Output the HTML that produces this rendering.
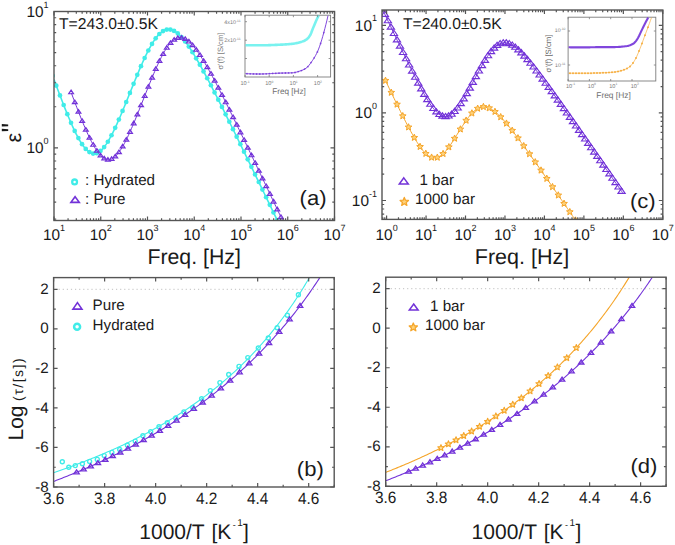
<!DOCTYPE html><html><head><meta charset="utf-8"><style>html,body{margin:0;padding:0;background:#fff}svg{display:block}</style></head><body><svg width="675" height="545" viewBox="0 0 675 545" font-family='"Liberation Sans", sans-serif' fill="#1a1a1a" text-rendering="geometricPrecision">
<rect width="675" height="545" fill="#fff"/>
<defs>
<clipPath id="ca"><rect x="54" y="11.5" width="280.5" height="209"/></clipPath>
<clipPath id="cc"><rect x="382" y="10" width="280.8" height="209.4"/></clipPath>
<clipPath id="cb"><rect x="53.6" y="277.6" width="280.6" height="209.4"/></clipPath>
<clipPath id="cd"><rect x="385.7" y="277.2" width="280.4" height="209.1"/></clipPath>
</defs>
<g clip-path="url(#ca)">
<path d="M54 79.46L54.86 81.79L55.72 84.12L56.58 86.43L57.44 88.74L58.3 91.03L59.16 93.31L60.02 95.58L60.88 97.83L61.74 100.07L62.6 102.3L63.46 104.5L64.32 106.69L65.18 108.85L66.04 110.99L66.9 113.11L67.76 115.21L68.62 117.27L69.48 119.31L70.34 121.32L71.2 123.29L72.06 125.22L72.92 127.12L73.78 128.98L74.64 130.79L75.5 132.55L76.36 134.27L77.22 135.93L78.08 137.54L78.94 139.09L79.8 140.58L80.66 142L81.52 143.36L82.38 144.64L83.24 145.85L84.1 146.99L84.96 148.04L85.82 149.01L86.68 149.89L87.54 150.68L88.4 151.39L89.26 151.99L90.12 152.51L90.98 152.92L91.84 153.24L92.7 153.46L93.56 153.58L94.42 153.6L95.28 153.52L96.14 153.34L97 153.06L97.86 152.68L98.72 152.2L99.58 151.63L100.44 150.96L101.3 150.2L102.16 149.36L103.02 148.42L103.88 147.41L104.74 146.31L105.6 145.14L106.46 143.89L107.32 142.57L108.18 141.18L109.04 139.73L109.9 138.22L110.76 136.65L111.62 135.03L112.48 133.35L113.34 131.63L114.2 129.87L115.06 128.06L115.92 126.21L116.78 124.33L117.64 122.41L118.5 120.46L119.36 118.49L120.22 116.49L121.08 114.47L121.94 112.42L122.8 110.36L123.66 108.29L124.52 106.2L125.38 104.09L126.24 101.98L127.1 99.86L127.96 97.74L128.82 95.61L129.68 93.47L130.54 91.34L131.4 89.21L132.26 87.08L133.12 84.96L133.98 82.85L134.84 80.74L135.7 78.65L136.56 76.57L137.42 74.5L138.28 72.45L139.14 70.42L139.99 68.41L140.85 66.42L141.71 64.46L142.57 62.53L143.43 60.63L144.29 58.76L145.15 56.92L146.01 55.13L146.87 53.37L147.73 51.66L148.59 49.99L149.45 48.37L150.31 46.8L151.17 45.28L152.03 43.82L152.89 42.42L153.75 41.08L154.61 39.8L155.47 38.59L156.33 37.44L157.19 36.37L158.05 35.37L158.91 34.44L159.77 33.59L160.63 32.81L161.49 32.12L162.35 31.5L163.21 30.96L164.07 30.5L164.93 30.12L165.79 29.83L166.65 29.61L167.51 29.47L168.37 29.41L169.23 29.43L170.09 29.52L170.95 29.69L171.81 29.93L172.67 30.24L173.53 30.62L174.39 31.07L175.25 31.59L176.11 32.16L176.97 32.8L177.83 33.5L178.69 34.25L179.55 35.06L180.41 35.92L181.27 36.83L182.13 37.78L182.99 38.78L183.85 39.82L184.71 40.9L185.57 42.02L186.43 43.18L187.29 44.37L188.15 45.6L189.01 46.85L189.87 48.14L190.73 49.45L191.59 50.79L192.45 52.15L193.31 53.54L194.17 54.95L195.03 56.37L195.89 57.82L196.75 59.29L197.61 60.77L198.47 62.27L199.33 63.79L200.19 65.31L201.05 66.86L201.91 68.41L202.77 69.98L203.63 71.56L204.49 73.15L205.35 74.75L206.21 76.36L207.07 77.98L207.93 79.6L208.79 81.24L209.65 82.88L210.51 84.53L211.37 86.19L212.23 87.85L213.09 89.52L213.95 91.19L214.81 92.87L215.67 94.56L216.53 96.25L217.39 97.94L218.25 99.64L219.11 101.34L219.97 103.05L220.83 104.76L221.69 106.47L222.55 108.19L223.41 109.91L224.27 111.63L225.13 113.36L225.99 115.08L226.85 116.81L227.71 118.55L228.57 120.28L229.43 122.02L230.29 123.76L231.15 125.5L232.01 127.24L232.87 128.99L233.73 130.73L234.59 132.48L235.45 134.23L236.31 135.98L237.17 137.74L238.03 139.49L238.89 141.24L239.75 143L240.61 144.76L241.47 146.52L242.33 148.28L243.19 150.04L244.05 151.8L244.91 153.56L245.77 155.32L246.63 157.09L247.49 158.85L248.35 160.62L249.21 162.38L250.07 164.15L250.93 165.92L251.79 167.69L252.65 169.46L253.51 171.23L254.37 172.99L255.23 174.77L256.09 176.54L256.95 178.31L257.81 180.08L258.67 181.85L259.53 183.62L260.39 185.4L261.25 187.17L262.11 188.94L262.97 190.72L263.83 192.49L264.69 194.27L265.55 196.04L266.41 197.82L267.27 199.59L268.13 201.37L268.99 203.15L269.85 204.92L270.71 206.7L271.57 208.48L272.43 210.25L273.29 212.03L274.15 213.81L275.01 215.59L275.87 217.36L276.73 219.14L277.59 220.92L278.45 222.7L279.31 224.48L280.17 226.25L281.03 228.03L281.89 229.81L282.75 231.59L283.61 233.37L284.47 235.15L285.33 236.93L286.19 238.71L287.05 240.49L287.91 242.27L288.77 244.05L289.63 245.83L290.49 247.61L291.35 249.39L292.21 251.17L293.07 252.95L293.93 254.73L294.79 256.51L295.65 258.29L296.51 260.07L297.37 261.85L298.23 263.63L299.09 265.41L299.95 267.19L300.81 268.97L301.67 270.75L302.53 272.53L303.39 274.32L304.25 276.1L305.11 277.88L305.97 279.66L306.83 281.44L307.69 283.22L308.55 285L309.41 286.78L310.27 288.56L311.12 290.35" stroke="#40ece8" stroke-width="1.6" fill="none"/>
<circle cx="52.61" cy="75.67" r="2.35" fill="#40ece8"/><circle cx="56.29" cy="85.65" r="2.35" fill="#40ece8"/><circle cx="59.97" cy="95.45" r="2.35" fill="#40ece8"/><circle cx="63.65" cy="104.99" r="2.35" fill="#40ece8"/><circle cx="67.33" cy="114.18" r="2.35" fill="#40ece8"/><circle cx="71.02" cy="122.87" r="2.35" fill="#40ece8"/><circle cx="74.7" cy="130.91" r="2.35" fill="#40ece8"/><circle cx="78.38" cy="138.09" r="2.35" fill="#40ece8"/><circle cx="82.06" cy="144.18" r="2.35" fill="#40ece8"/><circle cx="85.74" cy="148.92" r="2.35" fill="#40ece8"/><circle cx="89.42" cy="152.1" r="2.35" fill="#40ece8"/><circle cx="93.1" cy="153.53" r="2.35" fill="#40ece8"/><circle cx="96.78" cy="153.13" r="2.35" fill="#40ece8"/><circle cx="100.46" cy="150.94" r="2.35" fill="#40ece8"/><circle cx="104.15" cy="147.08" r="2.35" fill="#40ece8"/><circle cx="107.83" cy="141.76" r="2.35" fill="#40ece8"/><circle cx="111.51" cy="135.24" r="2.35" fill="#40ece8"/><circle cx="115.19" cy="127.78" r="2.35" fill="#40ece8"/><circle cx="118.87" cy="119.61" r="2.35" fill="#40ece8"/><circle cx="122.55" cy="110.95" r="2.35" fill="#40ece8"/><circle cx="126.23" cy="101.99" r="2.35" fill="#40ece8"/><circle cx="129.91" cy="92.88" r="2.35" fill="#40ece8"/><circle cx="133.59" cy="83.78" r="2.35" fill="#40ece8"/><circle cx="137.28" cy="74.83" r="2.35" fill="#40ece8"/><circle cx="140.96" cy="66.19" r="2.35" fill="#40ece8"/><circle cx="144.64" cy="58.02" r="2.35" fill="#40ece8"/><circle cx="148.32" cy="50.52" r="2.35" fill="#40ece8"/><circle cx="152" cy="43.88" r="2.35" fill="#40ece8"/><circle cx="155.68" cy="38.31" r="2.35" fill="#40ece8"/><circle cx="159.36" cy="33.99" r="2.35" fill="#40ece8"/><circle cx="163.04" cy="31.06" r="2.35" fill="#40ece8"/><circle cx="166.72" cy="29.59" r="2.35" fill="#40ece8"/><circle cx="170.4" cy="29.57" r="2.35" fill="#40ece8"/><circle cx="174.09" cy="30.9" r="2.35" fill="#40ece8"/><circle cx="177.77" cy="33.44" r="2.35" fill="#40ece8"/><circle cx="181.45" cy="37.02" r="2.35" fill="#40ece8"/><circle cx="185.13" cy="41.44" r="2.35" fill="#40ece8"/><circle cx="188.81" cy="46.56" r="2.35" fill="#40ece8"/><circle cx="192.49" cy="52.21" r="2.35" fill="#40ece8"/><circle cx="196.17" cy="58.3" r="2.35" fill="#40ece8"/><circle cx="199.85" cy="64.71" r="2.35" fill="#40ece8"/><circle cx="203.53" cy="71.38" r="2.35" fill="#40ece8"/><circle cx="207.22" cy="78.25" r="2.35" fill="#40ece8"/><circle cx="210.9" cy="85.27" r="2.35" fill="#40ece8"/><circle cx="214.58" cy="92.42" r="2.35" fill="#40ece8"/><circle cx="218.26" cy="99.66" r="2.35" fill="#40ece8"/><circle cx="221.94" cy="106.97" r="2.35" fill="#40ece8"/><circle cx="225.62" cy="114.34" r="2.35" fill="#40ece8"/><circle cx="229.3" cy="121.76" r="2.35" fill="#40ece8"/><circle cx="232.98" cy="129.22" r="2.35" fill="#40ece8"/><circle cx="236.66" cy="136.71" r="2.35" fill="#40ece8"/><circle cx="240.35" cy="144.22" r="2.35" fill="#40ece8"/><circle cx="244.03" cy="151.75" r="2.35" fill="#40ece8"/><circle cx="247.71" cy="159.3" r="2.35" fill="#40ece8"/><circle cx="251.39" cy="166.87" r="2.35" fill="#40ece8"/><circle cx="255.07" cy="174.44" r="2.35" fill="#40ece8"/><circle cx="258.75" cy="182.02" r="2.35" fill="#40ece8"/><circle cx="262.43" cy="189.61" r="2.35" fill="#40ece8"/><circle cx="266.11" cy="197.21" r="2.35" fill="#40ece8"/><circle cx="269.79" cy="204.81" r="2.35" fill="#40ece8"/><circle cx="273.48" cy="212.42" r="2.35" fill="#40ece8"/><circle cx="277.16" cy="220.03" r="2.35" fill="#40ece8"/><circle cx="280.84" cy="227.64" r="2.35" fill="#40ece8"/><circle cx="284.52" cy="235.26" r="2.35" fill="#40ece8"/><circle cx="288.2" cy="242.88" r="2.35" fill="#40ece8"/><circle cx="291.88" cy="250.5" r="2.35" fill="#40ece8"/><circle cx="295.56" cy="258.12" r="2.35" fill="#40ece8"/><circle cx="299.24" cy="265.74" r="2.35" fill="#40ece8"/><circle cx="302.92" cy="273.36" r="2.35" fill="#40ece8"/><circle cx="306.61" cy="280.98" r="2.35" fill="#40ece8"/><circle cx="310.29" cy="288.61" r="2.35" fill="#40ece8"/>
<path d="M71.3 92.82L72.1 94.98L72.9 97.13L73.7 99.27L74.51 101.4L75.31 103.52L76.11 105.62L76.91 107.71L77.71 109.78L78.52 111.84L79.32 113.88L80.12 115.9L80.92 117.9L81.72 119.88L82.53 121.84L83.33 123.77L84.13 125.68L84.93 127.56L85.74 129.41L86.54 131.23L87.34 133.01L88.14 134.76L88.94 136.47L89.75 138.14L90.55 139.77L91.35 141.35L92.15 142.88L92.95 144.37L93.76 145.8L94.56 147.18L95.36 148.49L96.16 149.75L96.96 150.94L97.77 152.07L98.57 153.13L99.37 154.11L100.17 155.03L100.98 155.86L101.78 156.62L102.58 157.3L103.38 157.89L104.18 158.4L104.99 158.83L105.79 159.16L106.59 159.41L107.39 159.57L108.19 159.64L109 159.62L109.8 159.51L110.6 159.32L111.4 159.03L112.2 158.65L113.01 158.19L113.81 157.64L114.61 157.01L115.41 156.3L116.22 155.5L117.02 154.63L117.82 153.68L118.62 152.66L119.42 151.57L120.23 150.41L121.03 149.19L121.83 147.9L122.63 146.55L123.43 145.15L124.24 143.69L125.04 142.18L125.84 140.62L126.64 139.02L127.44 137.37L128.25 135.68L129.05 133.96L129.85 132.2L130.65 130.4L131.45 128.58L132.26 126.73L133.06 124.85L133.86 122.95L134.66 121.03L135.47 119.09L136.27 117.13L137.07 115.16L137.87 113.17L138.67 111.17L139.48 109.16L140.28 107.14L141.08 105.12L141.88 103.09L142.68 101.06L143.49 99.03L144.29 97L145.09 94.97L145.89 92.94L146.69 90.92L147.5 88.91L148.3 86.9L149.1 84.91L149.9 82.93L150.71 80.97L151.51 79.02L152.31 77.08L153.11 75.17L153.91 73.28L154.72 71.42L155.52 69.58L156.32 67.77L157.12 65.99L157.92 64.25L158.73 62.54L159.53 60.87L160.33 59.23L161.13 57.64L161.93 56.1L162.74 54.6L163.54 53.15L164.34 51.76L165.14 50.42L165.95 49.14L166.75 47.91L167.55 46.75L168.35 45.65L169.15 44.61L169.96 43.65L170.76 42.75L171.56 41.92L172.36 41.16L173.16 40.48L173.97 39.87L174.77 39.33L175.57 38.87L176.37 38.48L177.17 38.17L177.98 37.93L178.78 37.76L179.58 37.67L180.38 37.65L181.19 37.71L181.99 37.83L182.79 38.02L183.59 38.28L184.39 38.6L185.2 38.99L186 39.44L186.8 39.95L187.6 40.52L188.4 41.15L189.21 41.83L190.01 42.56L190.81 43.33L191.61 44.16L192.41 45.03L193.22 45.95L194.02 46.91L194.82 47.9L195.62 48.94L196.42 50.01L197.23 51.11L198.03 52.24L198.83 53.41L199.63 54.6L200.44 55.83L201.24 57.07L202.04 58.34L202.84 59.64L203.64 60.95L204.45 62.29L205.25 63.65L206.05 65.02L206.85 66.41L207.65 67.82L208.46 69.24L209.26 70.68L210.06 72.13L210.86 73.59L211.66 75.07L212.47 76.56L213.27 78.05L214.07 79.56L214.87 81.08L215.68 82.61L216.48 84.14L217.28 85.68L218.08 87.24L218.88 88.79L219.69 90.36L220.49 91.93L221.29 93.51L222.09 95.09L222.89 96.68L223.7 98.27L224.5 99.87L225.3 101.47L226.1 103.08L226.9 104.69L227.71 106.31L228.51 107.93L229.31 109.55L230.11 111.18L230.92 112.81L231.72 114.44L232.52 116.07L233.32 117.71L234.12 119.35L234.93 120.99L235.73 122.64L236.53 124.29L237.33 125.93L238.13 127.59L238.94 129.24L239.74 130.89L240.54 132.55L241.34 134.21L242.14 135.87L242.95 137.53L243.75 139.19L244.55 140.86L245.35 142.52L246.16 144.19L246.96 145.85L247.76 147.52L248.56 149.19L249.36 150.86L250.17 152.54L250.97 154.21L251.77 155.88L252.57 157.56L253.37 159.23L254.18 160.91L254.98 162.58L255.78 164.26L256.58 165.94L257.38 167.62L258.19 169.3L258.99 170.98L259.79 172.66L260.59 174.34L261.39 176.02L262.2 177.7L263 179.38L263.8 181.07L264.6 182.75L265.41 184.43L266.21 186.12L267.01 187.8L267.81 189.49L268.61 191.17L269.42 192.86L270.22 194.54L271.02 196.23L271.82 197.91L272.62 199.6L273.43 201.29L274.23 202.98L275.03 204.66L275.83 206.35L276.63 208.04L277.44 209.73L278.24 211.41L279.04 213.1L279.84 214.79L280.65 216.48L281.45 218.17L282.25 219.86L283.05 221.55L283.85 223.24L284.66 224.93L285.46 226.62L286.26 228.31L287.06 230L287.86 231.69L288.67 233.38L289.47 235.07L290.27 236.76L291.07 238.45L291.87 240.14L292.68 241.83L293.48 243.52L294.28 245.21L295.08 246.91L295.89 248.6L296.69 250.29L297.49 251.98L298.29 253.67L299.09 255.36L299.9 257.05L300.7 258.75L301.5 260.44L302.3 262.13L303.1 263.82L303.91 265.51L304.71 267.2L305.51 268.9L306.31 270.59L307.11 272.28L307.92 273.97L308.72 275.67L309.52 277.36L310.32 279.05L311.12 280.74" stroke="#7232d8" stroke-width="1" fill="none"/>
<path d="M71.11 90.16L73.51 93.76H68.71Z" fill="none" stroke="#7232d8" stroke-width="1.2" stroke-linejoin="miter"/><path d="M74.79 100L77.19 103.6H72.39Z" fill="none" stroke="#7232d8" stroke-width="1.2" stroke-linejoin="miter"/><path d="M78.47 109.57L80.87 113.17H76.07Z" fill="none" stroke="#7232d8" stroke-width="1.2" stroke-linejoin="miter"/><path d="M82.15 118.77L84.55 122.37H79.75Z" fill="none" stroke="#7232d8" stroke-width="1.2" stroke-linejoin="miter"/><path d="M85.83 127.48L88.23 131.08H83.43Z" fill="none" stroke="#7232d8" stroke-width="1.2" stroke-linejoin="miter"/><path d="M89.52 135.51L91.92 139.11H87.12Z" fill="none" stroke="#7232d8" stroke-width="1.2" stroke-linejoin="miter"/><path d="M93.2 142.65L95.6 146.25H90.8Z" fill="none" stroke="#7232d8" stroke-width="1.2" stroke-linejoin="miter"/><path d="M96.88 148.66L99.28 152.26H94.48Z" fill="none" stroke="#7232d8" stroke-width="1.2" stroke-linejoin="miter"/><path d="M100.56 153.28L102.96 156.88H98.16Z" fill="none" stroke="#7232d8" stroke-width="1.2" stroke-linejoin="miter"/><path d="M104.24 156.28L106.64 159.88H101.84Z" fill="none" stroke="#7232d8" stroke-width="1.2" stroke-linejoin="miter"/><path d="M107.92 157.47L110.32 161.07H105.52Z" fill="none" stroke="#7232d8" stroke-width="1.2" stroke-linejoin="miter"/><path d="M111.6 156.78L114 160.38H109.2Z" fill="none" stroke="#7232d8" stroke-width="1.2" stroke-linejoin="miter"/><path d="M115.28 154.26L117.68 157.86H112.88Z" fill="none" stroke="#7232d8" stroke-width="1.2" stroke-linejoin="miter"/><path d="M118.96 150.04L121.36 153.64H116.56Z" fill="none" stroke="#7232d8" stroke-width="1.2" stroke-linejoin="miter"/><path d="M122.65 144.37L125.05 147.97H120.25Z" fill="none" stroke="#7232d8" stroke-width="1.2" stroke-linejoin="miter"/><path d="M126.33 137.49L128.73 141.09H123.93Z" fill="none" stroke="#7232d8" stroke-width="1.2" stroke-linejoin="miter"/><path d="M130.01 129.69L132.41 133.29H127.61Z" fill="none" stroke="#7232d8" stroke-width="1.2" stroke-linejoin="miter"/><path d="M133.69 121.2L136.09 124.8H131.29Z" fill="none" stroke="#7232d8" stroke-width="1.2" stroke-linejoin="miter"/><path d="M137.37 112.25L139.77 115.85H134.97Z" fill="none" stroke="#7232d8" stroke-width="1.2" stroke-linejoin="miter"/><path d="M141.05 103.03L143.45 106.63H138.65Z" fill="none" stroke="#7232d8" stroke-width="1.2" stroke-linejoin="miter"/><path d="M144.73 93.71L147.13 97.31H142.33Z" fill="none" stroke="#7232d8" stroke-width="1.2" stroke-linejoin="miter"/><path d="M148.41 84.46L150.81 88.06H146.01Z" fill="none" stroke="#7232d8" stroke-width="1.2" stroke-linejoin="miter"/><path d="M152.09 75.44L154.49 79.04H149.69Z" fill="none" stroke="#7232d8" stroke-width="1.2" stroke-linejoin="miter"/><path d="M155.78 66.84L158.18 70.44H153.38Z" fill="none" stroke="#7232d8" stroke-width="1.2" stroke-linejoin="miter"/><path d="M159.46 58.85L161.86 62.45H157.06Z" fill="none" stroke="#7232d8" stroke-width="1.2" stroke-linejoin="miter"/><path d="M163.14 51.71L165.54 55.31H160.74Z" fill="none" stroke="#7232d8" stroke-width="1.2" stroke-linejoin="miter"/><path d="M166.82 45.64L169.22 49.24H164.42Z" fill="none" stroke="#7232d8" stroke-width="1.2" stroke-linejoin="miter"/><path d="M170.5 40.87L172.9 44.47H168.1Z" fill="none" stroke="#7232d8" stroke-width="1.2" stroke-linejoin="miter"/><path d="M174.18 37.55L176.58 41.15H171.78Z" fill="none" stroke="#7232d8" stroke-width="1.2" stroke-linejoin="miter"/><path d="M177.86 35.8L180.26 39.4H175.46Z" fill="none" stroke="#7232d8" stroke-width="1.2" stroke-linejoin="miter"/><path d="M181.54 35.59L183.94 39.19H179.14Z" fill="none" stroke="#7232d8" stroke-width="1.2" stroke-linejoin="miter"/><path d="M185.22 36.85L187.62 40.45H182.82Z" fill="none" stroke="#7232d8" stroke-width="1.2" stroke-linejoin="miter"/><path d="M188.91 39.41L191.31 43.01H186.51Z" fill="none" stroke="#7232d8" stroke-width="1.2" stroke-linejoin="miter"/><path d="M192.59 43.07L194.99 46.67H190.19Z" fill="none" stroke="#7232d8" stroke-width="1.2" stroke-linejoin="miter"/><path d="M196.27 47.63L198.67 51.23H193.87Z" fill="none" stroke="#7232d8" stroke-width="1.2" stroke-linejoin="miter"/><path d="M199.95 52.92L202.35 56.52H197.55Z" fill="none" stroke="#7232d8" stroke-width="1.2" stroke-linejoin="miter"/><path d="M203.63 58.77L206.03 62.37H201.23Z" fill="none" stroke="#7232d8" stroke-width="1.2" stroke-linejoin="miter"/><path d="M207.31 65.05L209.71 68.65H204.91Z" fill="none" stroke="#7232d8" stroke-width="1.2" stroke-linejoin="miter"/><path d="M210.99 71.67L213.39 75.27H208.59Z" fill="none" stroke="#7232d8" stroke-width="1.2" stroke-linejoin="miter"/><path d="M214.67 78.54L217.07 82.14H212.27Z" fill="none" stroke="#7232d8" stroke-width="1.2" stroke-linejoin="miter"/><path d="M218.35 85.61L220.75 89.21H215.95Z" fill="none" stroke="#7232d8" stroke-width="1.2" stroke-linejoin="miter"/><path d="M222.04 92.82L224.44 96.42H219.64Z" fill="none" stroke="#7232d8" stroke-width="1.2" stroke-linejoin="miter"/><path d="M225.72 100.15L228.12 103.75H223.32Z" fill="none" stroke="#7232d8" stroke-width="1.2" stroke-linejoin="miter"/><path d="M229.4 107.57L231.8 111.17H227Z" fill="none" stroke="#7232d8" stroke-width="1.2" stroke-linejoin="miter"/><path d="M233.08 115.06L235.48 118.66H230.68Z" fill="none" stroke="#7232d8" stroke-width="1.2" stroke-linejoin="miter"/><path d="M236.76 122.6L239.16 126.2H234.36Z" fill="none" stroke="#7232d8" stroke-width="1.2" stroke-linejoin="miter"/><path d="M240.44 130.19L242.84 133.79H238.04Z" fill="none" stroke="#7232d8" stroke-width="1.2" stroke-linejoin="miter"/><path d="M244.12 137.81L246.52 141.41H241.72Z" fill="none" stroke="#7232d8" stroke-width="1.2" stroke-linejoin="miter"/><path d="M247.8 145.46L250.2 149.06H245.4Z" fill="none" stroke="#7232d8" stroke-width="1.2" stroke-linejoin="miter"/><path d="M251.48 153.13L253.88 156.73H249.08Z" fill="none" stroke="#7232d8" stroke-width="1.2" stroke-linejoin="miter"/><path d="M255.17 160.82L257.57 164.42H252.77Z" fill="none" stroke="#7232d8" stroke-width="1.2" stroke-linejoin="miter"/><path d="M258.85 168.52L261.25 172.12H256.45Z" fill="none" stroke="#7232d8" stroke-width="1.2" stroke-linejoin="miter"/><path d="M262.53 176.23L264.93 179.83H260.13Z" fill="none" stroke="#7232d8" stroke-width="1.2" stroke-linejoin="miter"/><path d="M266.21 183.96L268.61 187.56H263.81Z" fill="none" stroke="#7232d8" stroke-width="1.2" stroke-linejoin="miter"/><path d="M269.89 191.69L272.29 195.29H267.49Z" fill="none" stroke="#7232d8" stroke-width="1.2" stroke-linejoin="miter"/><path d="M273.57 199.43L275.97 203.03H271.17Z" fill="none" stroke="#7232d8" stroke-width="1.2" stroke-linejoin="miter"/><path d="M277.25 207.18L279.65 210.78H274.85Z" fill="none" stroke="#7232d8" stroke-width="1.2" stroke-linejoin="miter"/><path d="M280.93 214.93L283.33 218.53H278.53Z" fill="none" stroke="#7232d8" stroke-width="1.2" stroke-linejoin="miter"/><path d="M284.61 222.68L287.01 226.28H282.21Z" fill="none" stroke="#7232d8" stroke-width="1.2" stroke-linejoin="miter"/><path d="M288.3 230.44L290.7 234.04H285.9Z" fill="none" stroke="#7232d8" stroke-width="1.2" stroke-linejoin="miter"/><path d="M291.98 238.2L294.38 241.8H289.58Z" fill="none" stroke="#7232d8" stroke-width="1.2" stroke-linejoin="miter"/><path d="M295.66 245.96L298.06 249.56H293.26Z" fill="none" stroke="#7232d8" stroke-width="1.2" stroke-linejoin="miter"/><path d="M299.34 253.72L301.74 257.32H296.94Z" fill="none" stroke="#7232d8" stroke-width="1.2" stroke-linejoin="miter"/><path d="M303.02 261.48L305.42 265.08H300.62Z" fill="none" stroke="#7232d8" stroke-width="1.2" stroke-linejoin="miter"/><path d="M306.7 269.25L309.1 272.85H304.3Z" fill="none" stroke="#7232d8" stroke-width="1.2" stroke-linejoin="miter"/><path d="M310.38 277.02L312.78 280.62H307.98Z" fill="none" stroke="#7232d8" stroke-width="1.2" stroke-linejoin="miter"/>
</g>
<g clip-path="url(#cc)">
<path d="M384.63 78.78L385.43 80.44L386.22 82.1L387.02 83.77L387.82 85.43L388.62 87.09L389.42 88.74L390.22 90.4L391.01 92.05L391.81 93.7L392.61 95.35L393.41 97L394.21 98.64L395.01 100.28L395.8 101.92L396.6 103.55L397.4 105.18L398.2 106.8L399 108.42L399.8 110.04L400.59 111.65L401.39 113.25L402.19 114.85L402.99 116.44L403.79 118.02L404.59 119.59L405.38 121.15L406.18 122.7L406.98 124.24L407.78 125.77L408.58 127.28L409.38 128.78L410.18 130.27L410.97 131.74L411.77 133.18L412.57 134.61L413.37 136.02L414.17 137.41L414.97 138.77L415.76 140.1L416.56 141.4L417.36 142.67L418.16 143.91L418.96 145.12L419.76 146.28L420.55 147.41L421.35 148.49L422.15 149.53L422.95 150.52L423.75 151.46L424.55 152.34L425.34 153.17L426.14 153.94L426.94 154.65L427.74 155.3L428.54 155.88L429.34 156.39L430.13 156.83L430.93 157.2L431.73 157.5L432.53 157.73L433.33 157.88L434.13 157.95L434.92 157.95L435.72 157.87L436.52 157.72L437.32 157.5L438.12 157.2L438.92 156.82L439.72 156.38L440.51 155.87L441.31 155.29L442.11 154.65L442.91 153.95L443.71 153.18L444.51 152.37L445.3 151.5L446.1 150.57L446.9 149.61L447.7 148.6L448.5 147.54L449.3 146.46L450.09 145.33L450.89 144.18L451.69 143L452.49 141.79L453.29 140.57L454.09 139.33L454.88 138.07L455.68 136.8L456.48 135.52L457.28 134.23L458.08 132.95L458.88 131.66L459.67 130.38L460.47 129.1L461.27 127.83L462.07 126.57L462.87 125.33L463.67 124.11L464.46 122.91L465.26 121.73L466.06 120.58L466.86 119.46L467.66 118.37L468.46 117.31L469.26 116.29L470.05 115.32L470.85 114.39L471.65 113.5L472.45 112.66L473.25 111.87L474.05 111.14L474.84 110.45L475.64 109.83L476.44 109.26L477.24 108.74L478.04 108.29L478.84 107.9L479.63 107.56L480.43 107.29L481.23 107.08L482.03 106.92L482.83 106.83L483.63 106.79L484.42 106.82L485.22 106.89L486.02 107.02L486.82 107.21L487.62 107.44L488.42 107.73L489.21 108.06L490.01 108.44L490.81 108.86L491.61 109.33L492.41 109.83L493.21 110.38L494.01 110.96L494.8 111.57L495.6 112.22L496.4 112.9L497.2 113.6L498 114.34L498.8 115.09L499.59 115.88L500.39 116.68L501.19 117.51L501.99 118.36L502.79 119.23L503.59 120.11L504.38 121.01L505.18 121.93L505.98 122.86L506.78 123.81L507.58 124.77L508.38 125.74L509.17 126.72L509.97 127.71L510.77 128.71L511.57 129.73L512.37 130.75L513.17 131.77L513.96 132.81L514.76 133.85L515.56 134.9L516.36 135.96L517.16 137.02L517.96 138.09L518.75 139.16L519.55 140.24L520.35 141.32L521.15 142.41L521.95 143.5L522.75 144.6L523.55 145.7L524.34 146.8L525.14 147.9L525.94 149.01L526.74 150.12L527.54 151.24L528.34 152.35L529.13 153.47L529.93 154.59L530.73 155.72L531.53 156.84L532.33 157.97L533.13 159.1L533.92 160.23L534.72 161.36L535.52 162.49L536.32 163.63L537.12 164.77L537.92 165.9L538.71 167.04L539.51 168.18L540.31 169.33L541.11 170.47L541.91 171.61L542.71 172.76L543.5 173.9L544.3 175.05L545.1 176.19L545.9 177.34L546.7 178.49L547.5 179.64L548.29 180.79L549.09 181.94L549.89 183.09L550.69 184.24L551.49 185.4L552.29 186.55L553.09 187.7L553.88 188.86L554.68 190.01L555.48 191.16L556.28 192.32L557.08 193.47L557.88 194.63L558.67 195.79L559.47 196.94L560.27 198.1L561.07 199.26L561.87 200.41L562.67 201.57L563.46 202.73L564.26 203.89L565.06 205.04L565.86 206.2L566.66 207.36L567.46 208.52L568.25 209.68L569.05 210.84L569.85 212L570.65 213.16L571.45 214.32L572.25 215.48L573.04 216.64L573.84 217.8L574.64 218.96L575.44 220.12L576.24 221.28L577.04 222.44L577.84 223.6L578.63 224.76L579.43 225.92L580.23 227.08L581.03 228.24L581.83 229.4L582.63 230.57L583.42 231.73L584.22 232.89L585.02 234.05L585.82 235.21L586.62 236.37L587.42 237.53L588.21 238.7L589.01 239.86L589.81 241.02L590.61 242.18L591.41 243.34L592.21 244.5L593 245.67L593.8 246.83L594.6 247.99L595.4 249.15L596.2 250.31L597 251.48L597.79 252.64L598.59 253.8L599.39 254.96L600.19 256.12L600.99 257.29L601.79 258.45L602.58 259.61L603.38 260.77L604.18 261.94L604.98 263.1L605.78 264.26L606.58 265.42L607.38 266.59L608.17 267.75L608.97 268.91L609.77 270.07L610.57 271.24L611.37 272.4L612.17 273.56L612.96 274.72L613.76 275.88L614.56 277.05L615.36 278.21L616.16 279.37L616.96 280.53L617.75 281.7L618.55 282.86L619.35 284.02L620.15 285.18L620.95 286.35L621.75 287.51L622.54 288.67L623.34 289.83" stroke="#f5a52a" stroke-width="1" fill="none"/>
<polygon points="385.49,77.09 386.42,79.31 388.82,79.5 386.99,81.07 387.55,83.42 385.49,82.16 383.44,83.42 384,81.07 382.17,79.5 384.57,79.31" fill="#ffd27a" stroke="#f5a52a" stroke-width="1.0" stroke-linejoin="round"/><polygon points="391.26,89.05 392.18,91.28 394.58,91.47 392.75,93.04 393.31,95.38 391.26,94.13 389.2,95.38 389.76,93.04 387.93,91.47 390.33,91.28" fill="#ffd27a" stroke="#f5a52a" stroke-width="1.0" stroke-linejoin="round"/><polygon points="397.02,100.89 397.94,103.12 400.34,103.31 398.51,104.88 399.07,107.23 397.02,105.97 394.96,107.23 395.52,104.88 393.69,103.31 396.09,103.12" fill="#ffd27a" stroke="#f5a52a" stroke-width="1.0" stroke-linejoin="round"/><polygon points="402.78,112.51 403.7,114.74 406.1,114.93 404.27,116.5 404.83,118.84 402.78,117.59 400.72,118.84 401.28,116.5 399.45,114.93 401.85,114.74" fill="#ffd27a" stroke="#f5a52a" stroke-width="1.0" stroke-linejoin="round"/><polygon points="408.54,123.7 409.46,125.93 411.86,126.12 410.03,127.69 410.59,130.03 408.54,128.78 406.48,130.03 407.04,127.69 405.21,126.12 407.61,125.93" fill="#ffd27a" stroke="#f5a52a" stroke-width="1.0" stroke-linejoin="round"/><polygon points="414.3,134.13 415.22,136.35 417.62,136.55 415.79,138.11 416.35,140.46 414.3,139.2 412.24,140.46 412.8,138.11 410.97,136.55 413.37,136.35" fill="#ffd27a" stroke="#f5a52a" stroke-width="1.0" stroke-linejoin="round"/><polygon points="420.06,143.21 420.98,145.44 423.38,145.63 421.55,147.2 422.11,149.54 420.06,148.29 418,149.54 418.56,147.2 416.73,145.63 419.13,145.44" fill="#ffd27a" stroke="#f5a52a" stroke-width="1.0" stroke-linejoin="round"/><polygon points="425.82,150.13 426.74,152.36 429.14,152.55 427.31,154.12 427.87,156.46 425.82,155.21 423.76,156.46 424.32,154.12 422.49,152.55 424.89,152.36" fill="#ffd27a" stroke="#f5a52a" stroke-width="1.0" stroke-linejoin="round"/><polygon points="431.58,153.95 432.5,156.18 434.9,156.37 433.07,157.94 433.63,160.28 431.58,159.02 429.52,160.28 430.08,157.94 428.25,156.37 430.65,156.18" fill="#ffd27a" stroke="#f5a52a" stroke-width="1.0" stroke-linejoin="round"/><polygon points="437.34,153.99 438.26,156.22 440.67,156.41 438.83,157.98 439.39,160.32 437.34,159.06 435.28,160.32 435.84,157.98 434.01,156.41 436.41,156.22" fill="#ffd27a" stroke="#f5a52a" stroke-width="1.0" stroke-linejoin="round"/><polygon points="443.1,150.27 444.02,152.5 446.43,152.69 444.59,154.26 445.15,156.6 443.1,155.35 441.04,156.6 441.6,154.26 439.77,152.69 442.17,152.5" fill="#ffd27a" stroke="#f5a52a" stroke-width="1.0" stroke-linejoin="round"/><polygon points="448.86,143.56 449.78,145.78 452.19,145.98 450.35,147.55 450.91,149.89 448.86,148.63 446.8,149.89 447.36,147.55 445.53,145.98 447.93,145.78" fill="#ffd27a" stroke="#f5a52a" stroke-width="1.0" stroke-linejoin="round"/><polygon points="454.62,134.99 455.54,137.22 457.95,137.41 456.11,138.98 456.67,141.32 454.62,140.07 452.56,141.32 453.12,138.98 451.29,137.41 453.69,137.22" fill="#ffd27a" stroke="#f5a52a" stroke-width="1.0" stroke-linejoin="round"/><polygon points="460.38,125.75 461.3,127.98 463.71,128.17 461.88,129.74 462.43,132.08 460.38,130.83 458.32,132.08 458.88,129.74 457.05,128.17 459.45,127.98" fill="#ffd27a" stroke="#f5a52a" stroke-width="1.0" stroke-linejoin="round"/><polygon points="466.14,116.97 467.06,119.2 469.47,119.39 467.64,120.96 468.19,123.3 466.14,122.04 464.08,123.3 464.64,120.96 462.81,119.39 465.21,119.2" fill="#ffd27a" stroke="#f5a52a" stroke-width="1.0" stroke-linejoin="round"/><polygon points="471.9,109.73 472.82,111.96 475.23,112.15 473.4,113.72 473.95,116.07 471.9,114.81 469.84,116.07 470.4,113.72 468.57,112.15 470.97,111.96" fill="#ffd27a" stroke="#f5a52a" stroke-width="1.0" stroke-linejoin="round"/><polygon points="477.66,105 478.58,107.22 480.99,107.42 479.16,108.99 479.71,111.33 477.66,110.07 475.6,111.33 476.16,108.99 474.33,107.42 476.73,107.22" fill="#ffd27a" stroke="#f5a52a" stroke-width="1.0" stroke-linejoin="round"/><polygon points="483.42,103.3 484.34,105.52 486.75,105.72 484.92,107.28 485.48,109.63 483.42,108.37 481.36,109.63 481.92,107.28 480.09,105.72 482.49,105.52" fill="#ffd27a" stroke="#f5a52a" stroke-width="1.0" stroke-linejoin="round"/><polygon points="489.18,104.55 490.1,106.77 492.51,106.96 490.68,108.53 491.24,110.88 489.18,109.62 487.12,110.88 487.68,108.53 485.85,106.96 488.25,106.77" fill="#ffd27a" stroke="#f5a52a" stroke-width="1.0" stroke-linejoin="round"/><polygon points="494.94,108.18 495.86,110.4 498.27,110.6 496.44,112.16 497,114.51 494.94,113.25 492.88,114.51 493.44,112.16 491.61,110.6 494.01,110.4" fill="#ffd27a" stroke="#f5a52a" stroke-width="1.0" stroke-linejoin="round"/><polygon points="500.7,113.5 501.62,115.73 504.03,115.92 502.2,117.49 502.76,119.83 500.7,118.58 498.64,119.83 499.2,117.49 497.37,115.92 499.77,115.73" fill="#ffd27a" stroke="#f5a52a" stroke-width="1.0" stroke-linejoin="round"/><polygon points="506.46,119.93 507.38,122.15 509.79,122.35 507.96,123.91 508.52,126.26 506.46,125 504.4,126.26 504.96,123.91 503.13,122.35 505.53,122.15" fill="#ffd27a" stroke="#f5a52a" stroke-width="1.0" stroke-linejoin="round"/><polygon points="512.22,127.05 513.14,129.28 515.55,129.47 513.72,131.04 514.28,133.39 512.22,132.13 510.16,133.39 510.72,131.04 508.89,129.47 511.29,129.28" fill="#ffd27a" stroke="#f5a52a" stroke-width="1.0" stroke-linejoin="round"/><polygon points="517.98,134.62 518.9,136.85 521.31,137.04 519.48,138.61 520.04,140.95 517.98,139.7 515.92,140.95 516.48,138.61 514.65,137.04 517.05,136.85" fill="#ffd27a" stroke="#f5a52a" stroke-width="1.0" stroke-linejoin="round"/><polygon points="523.74,142.46 524.66,144.69 527.07,144.88 525.24,146.45 525.8,148.79 523.74,147.54 521.68,148.79 522.24,146.45 520.41,144.88 522.81,144.69" fill="#ffd27a" stroke="#f5a52a" stroke-width="1.0" stroke-linejoin="round"/><polygon points="529.5,150.48 530.42,152.71 532.83,152.9 531,154.47 531.56,156.82 529.5,155.56 527.44,156.82 528,154.47 526.17,152.9 528.57,152.71" fill="#ffd27a" stroke="#f5a52a" stroke-width="1.0" stroke-linejoin="round"/><polygon points="535.26,158.62 536.19,160.85 538.59,161.04 536.76,162.61 537.32,164.95 535.26,163.7 533.2,164.95 533.76,162.61 531.93,161.04 534.33,160.85" fill="#ffd27a" stroke="#f5a52a" stroke-width="1.0" stroke-linejoin="round"/><polygon points="541.02,166.84 541.95,169.07 544.35,169.26 542.52,170.83 543.08,173.17 541.02,171.91 538.96,173.17 539.52,170.83 537.69,169.26 540.09,169.07" fill="#ffd27a" stroke="#f5a52a" stroke-width="1.0" stroke-linejoin="round"/><polygon points="546.78,175.11 547.71,177.33 550.11,177.53 548.28,179.1 548.84,181.44 546.78,180.18 544.72,181.44 545.28,179.1 543.45,177.53 545.85,177.33" fill="#ffd27a" stroke="#f5a52a" stroke-width="1.0" stroke-linejoin="round"/><polygon points="552.54,183.41 553.47,185.64 555.87,185.83 554.04,187.4 554.6,189.75 552.54,188.49 550.48,189.75 551.04,187.4 549.21,185.83 551.61,185.64" fill="#ffd27a" stroke="#f5a52a" stroke-width="1.0" stroke-linejoin="round"/><polygon points="558.3,191.74 559.23,193.97 561.63,194.16 559.8,195.73 560.36,198.08 558.3,196.82 556.24,198.08 556.8,195.73 554.97,194.16 557.37,193.97" fill="#ffd27a" stroke="#f5a52a" stroke-width="1.0" stroke-linejoin="round"/><polygon points="564.06,200.09 564.99,202.32 567.39,202.51 565.56,204.08 566.12,206.42 564.06,205.17 562,206.42 562.56,204.08 560.73,202.51 563.13,202.32" fill="#ffd27a" stroke="#f5a52a" stroke-width="1.0" stroke-linejoin="round"/><polygon points="569.82,208.45 570.75,210.68 573.15,210.87 571.32,212.44 571.88,214.78 569.82,213.53 567.76,214.78 568.32,212.44 566.49,210.87 568.89,210.68" fill="#ffd27a" stroke="#f5a52a" stroke-width="1.0" stroke-linejoin="round"/><polygon points="575.58,216.82 576.51,219.05 578.91,219.24 577.08,220.81 577.64,223.15 575.58,221.9 573.52,223.15 574.08,220.81 572.25,219.24 574.65,219.05" fill="#ffd27a" stroke="#f5a52a" stroke-width="1.0" stroke-linejoin="round"/><polygon points="581.34,225.2 582.27,227.42 584.67,227.62 582.84,229.18 583.4,231.53 581.34,230.27 579.28,231.53 579.84,229.18 578.01,227.62 580.42,227.42" fill="#ffd27a" stroke="#f5a52a" stroke-width="1.0" stroke-linejoin="round"/><polygon points="587.1,233.58 588.03,235.8 590.43,235.99 588.6,237.56 589.16,239.91 587.1,238.65 585.04,239.91 585.6,237.56 583.77,235.99 586.18,235.8" fill="#ffd27a" stroke="#f5a52a" stroke-width="1.0" stroke-linejoin="round"/><polygon points="592.86,241.96 593.79,244.18 596.19,244.38 594.36,245.94 594.92,248.29 592.86,247.03 590.8,248.29 591.36,245.94 589.53,244.38 591.94,244.18" fill="#ffd27a" stroke="#f5a52a" stroke-width="1.0" stroke-linejoin="round"/><polygon points="598.62,250.34 599.55,252.57 601.95,252.76 600.12,254.33 600.68,256.67 598.62,255.42 596.56,256.67 597.12,254.33 595.29,252.76 597.7,252.57" fill="#ffd27a" stroke="#f5a52a" stroke-width="1.0" stroke-linejoin="round"/><polygon points="604.38,258.73 605.31,260.95 607.71,261.15 605.88,262.71 606.44,265.06 604.38,263.8 602.32,265.06 602.88,262.71 601.05,261.15 603.46,260.95" fill="#ffd27a" stroke="#f5a52a" stroke-width="1.0" stroke-linejoin="round"/><polygon points="610.14,267.11 611.07,269.34 613.47,269.53 611.64,271.1 612.2,273.44 610.14,272.19 608.08,273.44 608.64,271.1 606.81,269.53 609.22,269.34" fill="#ffd27a" stroke="#f5a52a" stroke-width="1.0" stroke-linejoin="round"/><polygon points="615.9,275.5 616.83,277.73 619.23,277.92 617.4,279.49 617.96,281.83 615.9,280.58 613.84,281.83 614.4,279.49 612.57,277.92 614.98,277.73" fill="#ffd27a" stroke="#f5a52a" stroke-width="1.0" stroke-linejoin="round"/><polygon points="621.66,283.89 622.59,286.11 624.99,286.31 623.16,287.87 623.72,290.22 621.66,288.96 619.6,290.22 620.16,287.87 618.33,286.31 620.74,286.11" fill="#ffd27a" stroke="#f5a52a" stroke-width="1.0" stroke-linejoin="round"/><polygon points="627.42,292.28 628.35,294.5 630.75,294.69 628.92,296.26 629.48,298.61 627.42,297.35 625.36,298.61 625.92,296.26 624.09,294.69 626.5,294.5" fill="#ffd27a" stroke="#f5a52a" stroke-width="1.0" stroke-linejoin="round"/><polygon points="633.18,300.66 634.11,302.89 636.51,303.08 634.68,304.65 635.24,306.99 633.18,305.74 631.13,306.99 631.68,304.65 629.85,303.08 632.26,302.89" fill="#ffd27a" stroke="#f5a52a" stroke-width="1.0" stroke-linejoin="round"/><polygon points="638.94,309.05 639.87,311.28 642.27,311.47 640.44,313.04 641,315.38 638.94,314.13 636.89,315.38 637.44,313.04 635.61,311.47 638.02,311.28" fill="#ffd27a" stroke="#f5a52a" stroke-width="1.0" stroke-linejoin="round"/><polygon points="644.7,317.44 645.63,319.66 648.03,319.86 646.2,321.43 646.76,323.77 644.7,322.51 642.65,323.77 643.2,321.43 641.37,319.86 643.78,319.66" fill="#ffd27a" stroke="#f5a52a" stroke-width="1.0" stroke-linejoin="round"/>
<path d="M381.86 8.05L382.67 9.74L383.47 11.43L384.28 13.13L385.08 14.82L385.89 16.51L386.69 18.21L387.5 19.9L388.3 21.59L389.11 23.28L389.91 24.97L390.72 26.66L391.52 28.35L392.33 30.04L393.13 31.73L393.94 33.42L394.74 35.1L395.55 36.79L396.35 38.48L397.16 40.16L397.96 41.84L398.77 43.52L399.57 45.2L400.38 46.88L401.18 48.55L401.99 50.23L402.79 51.9L403.6 53.57L404.4 55.24L405.21 56.9L406.01 58.56L406.82 60.22L407.62 61.87L408.43 63.52L409.23 65.17L410.04 66.81L410.84 68.44L411.65 70.07L412.45 71.7L413.26 73.31L414.06 74.92L414.87 76.52L415.67 78.12L416.48 79.7L417.28 81.27L418.09 82.83L418.89 84.38L419.7 85.91L420.5 87.43L421.31 88.93L422.11 90.42L422.92 91.88L423.72 93.33L424.53 94.75L425.33 96.15L426.14 97.53L426.94 98.87L427.75 100.19L428.55 101.47L429.36 102.72L430.16 103.94L430.97 105.11L431.77 106.24L432.58 107.33L433.38 108.37L434.19 109.36L434.99 110.29L435.8 111.17L436.6 112L437.41 112.76L438.21 113.45L439.02 114.09L439.82 114.65L440.63 115.14L441.43 115.56L442.24 115.9L443.04 116.17L443.85 116.36L444.65 116.47L445.46 116.5L446.26 116.45L447.07 116.33L447.87 116.12L448.68 115.84L449.48 115.48L450.29 115.04L451.09 114.53L451.9 113.95L452.7 113.3L453.51 112.58L454.31 111.8L455.12 110.95L455.92 110.05L456.73 109.09L457.53 108.07L458.34 107L459.14 105.89L459.95 104.73L460.75 103.53L461.56 102.29L462.36 101.02L463.17 99.71L463.97 98.37L464.78 97L465.58 95.61L466.39 94.2L467.19 92.76L468 91.31L468.8 89.85L469.61 88.36L470.41 86.87L471.22 85.37L472.02 83.86L472.83 82.35L473.63 80.83L474.44 79.32L475.24 77.8L476.05 76.29L476.85 74.79L477.66 73.29L478.46 71.8L479.27 70.32L480.07 68.86L480.88 67.41L481.68 65.98L482.49 64.57L483.29 63.19L484.1 61.83L484.9 60.49L485.71 59.19L486.51 57.92L487.32 56.69L488.12 55.49L488.93 54.33L489.73 53.22L490.54 52.15L491.34 51.13L492.15 50.16L492.95 49.25L493.76 48.38L494.56 47.58L495.37 46.83L496.17 46.14L496.98 45.51L497.78 44.95L498.59 44.44L499.39 44L500.2 43.63L501 43.32L501.81 43.07L502.61 42.88L503.42 42.76L504.22 42.7L505.03 42.7L505.83 42.75L506.64 42.87L507.44 43.04L508.25 43.26L509.05 43.53L509.86 43.86L510.66 44.23L511.47 44.64L512.27 45.1L513.08 45.61L513.88 46.15L514.69 46.72L515.49 47.34L516.3 47.98L517.1 48.66L517.91 49.37L518.71 50.1L519.52 50.86L520.32 51.65L521.13 52.45L521.93 53.28L522.74 54.13L523.54 55L524.35 55.89L525.15 56.79L525.96 57.71L526.76 58.64L527.57 59.59L528.37 60.55L529.18 61.52L529.98 62.5L530.79 63.49L531.59 64.49L532.4 65.51L533.2 66.53L534.01 67.55L534.81 68.59L535.62 69.63L536.42 70.68L537.23 71.74L538.03 72.8L538.84 73.86L539.64 74.94L540.45 76.01L541.25 77.09L542.06 78.18L542.86 79.27L543.67 80.36L544.47 81.46L545.28 82.56L546.08 83.66L546.89 84.77L547.69 85.88L548.5 86.99L549.3 88.1L550.11 89.22L550.91 90.33L551.72 91.46L552.52 92.58L553.33 93.7L554.13 94.83L554.94 95.95L555.74 97.08L556.55 98.21L557.35 99.35L558.16 100.48L558.96 101.61L559.77 102.75L560.57 103.89L561.38 105.02L562.18 106.16L562.99 107.3L563.79 108.44L564.6 109.59L565.4 110.73L566.21 111.87L567.01 113.02L567.82 114.16L568.62 115.31L569.43 116.45L570.23 117.6L571.03 118.74L571.84 119.89L572.64 121.04L573.45 122.19L574.25 123.34L575.06 124.49L575.86 125.64L576.67 126.79L577.47 127.94L578.28 129.09L579.08 130.24L579.89 131.39L580.69 132.54L581.5 133.7L582.3 134.85L583.11 136L583.91 137.16L584.72 138.31L585.52 139.46L586.33 140.62L587.13 141.77L587.94 142.92L588.74 144.08L589.55 145.23L590.35 146.39L591.16 147.54L591.96 148.7L592.77 149.85L593.57 151.01L594.38 152.16L595.18 153.32L595.99 154.48L596.79 155.63L597.6 156.79L598.4 157.94L599.21 159.1L600.01 160.26L600.82 161.41L601.62 162.57L602.43 163.73L603.23 164.88L604.04 166.04L604.84 167.2L605.65 168.35L606.45 169.51L607.26 170.67L608.06 171.82L608.87 172.98L609.67 174.14L610.48 175.29L611.28 176.45L612.09 177.61L612.89 178.77L613.7 179.92L614.5 181.08L615.31 182.24L616.11 183.4L616.92 184.55L617.72 185.71L618.53 186.87L619.33 188.03L620.14 189.18L620.94 190.34L621.75 191.5L622.55 192.66" stroke="#7232d8" stroke-width="1" fill="none"/>
<path d="M381.79 4.78L385.39 9.96H378.19Z" fill="none" stroke="#7232d8" stroke-width="1.15" stroke-linejoin="miter"/><path d="M384.82 11.16L388.42 16.35H381.22Z" fill="none" stroke="#7232d8" stroke-width="1.15" stroke-linejoin="miter"/><path d="M387.86 17.54L391.46 22.73H384.26Z" fill="none" stroke="#7232d8" stroke-width="1.15" stroke-linejoin="miter"/><path d="M390.89 23.92L394.49 29.1H387.29Z" fill="none" stroke="#7232d8" stroke-width="1.15" stroke-linejoin="miter"/><path d="M393.93 30.29L397.53 35.47H390.33Z" fill="none" stroke="#7232d8" stroke-width="1.15" stroke-linejoin="miter"/><path d="M396.96 36.64L400.56 41.83H393.36Z" fill="none" stroke="#7232d8" stroke-width="1.15" stroke-linejoin="miter"/><path d="M400 42.98L403.6 48.16H396.4Z" fill="none" stroke="#7232d8" stroke-width="1.15" stroke-linejoin="miter"/><path d="M403.04 49.29L406.64 54.47H399.44Z" fill="none" stroke="#7232d8" stroke-width="1.15" stroke-linejoin="miter"/><path d="M406.07 55.57L409.67 60.75H402.47Z" fill="none" stroke="#7232d8" stroke-width="1.15" stroke-linejoin="miter"/><path d="M409.11 61.8L412.71 66.98H405.51Z" fill="none" stroke="#7232d8" stroke-width="1.15" stroke-linejoin="miter"/><path d="M412.14 67.96L415.74 73.14H408.54Z" fill="none" stroke="#7232d8" stroke-width="1.15" stroke-linejoin="miter"/><path d="M415.18 74.02L418.78 79.2H411.58Z" fill="none" stroke="#7232d8" stroke-width="1.15" stroke-linejoin="miter"/><path d="M418.21 79.95L421.81 85.14H414.61Z" fill="none" stroke="#7232d8" stroke-width="1.15" stroke-linejoin="miter"/><path d="M421.25 85.7L424.85 90.89H417.65Z" fill="none" stroke="#7232d8" stroke-width="1.15" stroke-linejoin="miter"/><path d="M424.28 91.21L427.88 96.39H420.68Z" fill="none" stroke="#7232d8" stroke-width="1.15" stroke-linejoin="miter"/><path d="M427.32 96.38L430.92 101.56H423.72Z" fill="none" stroke="#7232d8" stroke-width="1.15" stroke-linejoin="miter"/><path d="M430.35 101.1L433.95 106.29H426.75Z" fill="none" stroke="#7232d8" stroke-width="1.15" stroke-linejoin="miter"/><path d="M433.39 105.26L436.99 110.45H429.79Z" fill="none" stroke="#7232d8" stroke-width="1.15" stroke-linejoin="miter"/><path d="M436.42 108.71L440.02 113.89H432.82Z" fill="none" stroke="#7232d8" stroke-width="1.15" stroke-linejoin="miter"/><path d="M439.46 111.29L443.06 116.47H435.86Z" fill="none" stroke="#7232d8" stroke-width="1.15" stroke-linejoin="miter"/><path d="M442.49 112.88L446.09 118.07H438.89Z" fill="none" stroke="#7232d8" stroke-width="1.15" stroke-linejoin="miter"/><path d="M445.53 113.39L449.13 118.57H441.93Z" fill="none" stroke="#7232d8" stroke-width="1.15" stroke-linejoin="miter"/><path d="M448.56 112.77L452.16 117.96H444.96Z" fill="none" stroke="#7232d8" stroke-width="1.15" stroke-linejoin="miter"/><path d="M451.6 111.07L455.2 116.25H448Z" fill="none" stroke="#7232d8" stroke-width="1.15" stroke-linejoin="miter"/><path d="M454.63 108.36L458.23 113.54H451.03Z" fill="none" stroke="#7232d8" stroke-width="1.15" stroke-linejoin="miter"/><path d="M457.67 104.78L461.27 109.97H454.07Z" fill="none" stroke="#7232d8" stroke-width="1.15" stroke-linejoin="miter"/><path d="M460.7 100.5L464.3 105.68H457.1Z" fill="none" stroke="#7232d8" stroke-width="1.15" stroke-linejoin="miter"/><path d="M463.74 95.65L467.34 100.84H460.14Z" fill="none" stroke="#7232d8" stroke-width="1.15" stroke-linejoin="miter"/><path d="M466.77 90.4L470.37 95.59H463.17Z" fill="none" stroke="#7232d8" stroke-width="1.15" stroke-linejoin="miter"/><path d="M469.81 84.88L473.41 90.07H466.21Z" fill="none" stroke="#7232d8" stroke-width="1.15" stroke-linejoin="miter"/><path d="M472.84 79.21L476.44 84.39H469.24Z" fill="none" stroke="#7232d8" stroke-width="1.15" stroke-linejoin="miter"/><path d="M475.88 73.5L479.48 78.68H472.28Z" fill="none" stroke="#7232d8" stroke-width="1.15" stroke-linejoin="miter"/><path d="M478.91 67.86L482.51 73.04H475.31Z" fill="none" stroke="#7232d8" stroke-width="1.15" stroke-linejoin="miter"/><path d="M481.95 62.4L485.55 67.58H478.35Z" fill="none" stroke="#7232d8" stroke-width="1.15" stroke-linejoin="miter"/><path d="M484.98 57.25L488.58 62.43H481.38Z" fill="none" stroke="#7232d8" stroke-width="1.15" stroke-linejoin="miter"/><path d="M488.02 52.53L491.62 57.71H484.42Z" fill="none" stroke="#7232d8" stroke-width="1.15" stroke-linejoin="miter"/><path d="M491.05 48.38L494.65 53.56H487.45Z" fill="none" stroke="#7232d8" stroke-width="1.15" stroke-linejoin="miter"/><path d="M494.09 44.93L497.69 50.12H490.49Z" fill="none" stroke="#7232d8" stroke-width="1.15" stroke-linejoin="miter"/><path d="M497.13 42.29L500.73 47.48H493.53Z" fill="none" stroke="#7232d8" stroke-width="1.15" stroke-linejoin="miter"/><path d="M500.16 40.53L503.76 45.72H496.56Z" fill="none" stroke="#7232d8" stroke-width="1.15" stroke-linejoin="miter"/><path d="M503.2 39.68L506.8 44.86H499.6Z" fill="none" stroke="#7232d8" stroke-width="1.15" stroke-linejoin="miter"/><path d="M506.23 39.69L509.83 44.88H502.63Z" fill="none" stroke="#7232d8" stroke-width="1.15" stroke-linejoin="miter"/><path d="M509.27 40.5L512.87 45.69H505.67Z" fill="none" stroke="#7232d8" stroke-width="1.15" stroke-linejoin="miter"/><path d="M512.3 42.01L515.9 47.2H508.7Z" fill="none" stroke="#7232d8" stroke-width="1.15" stroke-linejoin="miter"/><path d="M515.34 44.11L518.94 49.29H511.74Z" fill="none" stroke="#7232d8" stroke-width="1.15" stroke-linejoin="miter"/><path d="M518.37 46.68L521.97 51.86H514.77Z" fill="none" stroke="#7232d8" stroke-width="1.15" stroke-linejoin="miter"/><path d="M521.41 49.63L525.01 54.81H517.81Z" fill="none" stroke="#7232d8" stroke-width="1.15" stroke-linejoin="miter"/><path d="M524.44 52.88L528.04 58.07H520.84Z" fill="none" stroke="#7232d8" stroke-width="1.15" stroke-linejoin="miter"/><path d="M527.48 56.37L531.08 61.56H523.88Z" fill="none" stroke="#7232d8" stroke-width="1.15" stroke-linejoin="miter"/><path d="M530.51 60.04L534.11 65.23H526.91Z" fill="none" stroke="#7232d8" stroke-width="1.15" stroke-linejoin="miter"/><path d="M533.55 63.86L537.15 69.04H529.95Z" fill="none" stroke="#7232d8" stroke-width="1.15" stroke-linejoin="miter"/><path d="M536.58 67.78L540.18 72.97H532.98Z" fill="none" stroke="#7232d8" stroke-width="1.15" stroke-linejoin="miter"/><path d="M539.62 71.8L543.22 76.98H536.02Z" fill="none" stroke="#7232d8" stroke-width="1.15" stroke-linejoin="miter"/><path d="M542.65 75.88L546.25 81.06H539.05Z" fill="none" stroke="#7232d8" stroke-width="1.15" stroke-linejoin="miter"/><path d="M545.69 80.01L549.29 85.2H542.09Z" fill="none" stroke="#7232d8" stroke-width="1.15" stroke-linejoin="miter"/><path d="M548.72 84.19L552.32 89.38H545.12Z" fill="none" stroke="#7232d8" stroke-width="1.15" stroke-linejoin="miter"/><path d="M551.76 88.4L555.36 93.59H548.16Z" fill="none" stroke="#7232d8" stroke-width="1.15" stroke-linejoin="miter"/><path d="M554.79 92.65L558.39 97.83H551.19Z" fill="none" stroke="#7232d8" stroke-width="1.15" stroke-linejoin="miter"/><path d="M557.83 96.91L561.43 102.09H554.23Z" fill="none" stroke="#7232d8" stroke-width="1.15" stroke-linejoin="miter"/><path d="M560.86 101.19L564.46 106.38H557.26Z" fill="none" stroke="#7232d8" stroke-width="1.15" stroke-linejoin="miter"/><path d="M563.9 105.49L567.5 110.67H560.3Z" fill="none" stroke="#7232d8" stroke-width="1.15" stroke-linejoin="miter"/><path d="M566.93 109.8L570.53 114.98H563.33Z" fill="none" stroke="#7232d8" stroke-width="1.15" stroke-linejoin="miter"/><path d="M569.97 114.12L573.57 119.3H566.37Z" fill="none" stroke="#7232d8" stroke-width="1.15" stroke-linejoin="miter"/><path d="M573 118.44L576.6 123.63H569.4Z" fill="none" stroke="#7232d8" stroke-width="1.15" stroke-linejoin="miter"/><path d="M576.04 122.78L579.64 127.96H572.44Z" fill="none" stroke="#7232d8" stroke-width="1.15" stroke-linejoin="miter"/><path d="M579.07 127.12L582.67 132.3H575.47Z" fill="none" stroke="#7232d8" stroke-width="1.15" stroke-linejoin="miter"/><path d="M582.11 131.46L585.71 136.64H578.51Z" fill="none" stroke="#7232d8" stroke-width="1.15" stroke-linejoin="miter"/><path d="M585.15 135.81L588.75 140.99H581.55Z" fill="none" stroke="#7232d8" stroke-width="1.15" stroke-linejoin="miter"/><path d="M588.18 140.16L591.78 145.34H584.58Z" fill="none" stroke="#7232d8" stroke-width="1.15" stroke-linejoin="miter"/><path d="M591.22 144.51L594.82 149.7H587.62Z" fill="none" stroke="#7232d8" stroke-width="1.15" stroke-linejoin="miter"/><path d="M594.25 148.87L597.85 154.05H590.65Z" fill="none" stroke="#7232d8" stroke-width="1.15" stroke-linejoin="miter"/><path d="M597.29 153.23L600.89 158.41H593.69Z" fill="none" stroke="#7232d8" stroke-width="1.15" stroke-linejoin="miter"/><path d="M600.32 157.59L603.92 162.77H596.72Z" fill="none" stroke="#7232d8" stroke-width="1.15" stroke-linejoin="miter"/><path d="M603.36 161.95L606.96 167.13H599.76Z" fill="none" stroke="#7232d8" stroke-width="1.15" stroke-linejoin="miter"/><path d="M606.39 166.31L609.99 171.49H602.79Z" fill="none" stroke="#7232d8" stroke-width="1.15" stroke-linejoin="miter"/><path d="M609.43 170.67L613.03 175.86H605.83Z" fill="none" stroke="#7232d8" stroke-width="1.15" stroke-linejoin="miter"/><path d="M612.46 175.04L616.06 180.22H608.86Z" fill="none" stroke="#7232d8" stroke-width="1.15" stroke-linejoin="miter"/><path d="M615.5 179.4L619.1 184.58H611.9Z" fill="none" stroke="#7232d8" stroke-width="1.15" stroke-linejoin="miter"/><path d="M618.53 183.76L622.13 188.95H614.93Z" fill="none" stroke="#7232d8" stroke-width="1.15" stroke-linejoin="miter"/><path d="M621.57 188.13L625.17 193.31H617.97Z" fill="none" stroke="#7232d8" stroke-width="1.15" stroke-linejoin="miter"/>
</g>
<g clip-path="url(#cb)">
<path d="M53.6 472.65L55.01 472.17L56.42 471.69L57.83 471.21L59.24 470.72L60.65 470.23L62.06 469.74L63.47 469.24L64.88 468.74L66.29 468.23L67.7 467.73L69.11 467.22L70.52 466.71L71.93 466.19L73.34 465.67L74.75 465.15L76.16 464.62L77.57 464.09L78.98 463.56L80.39 463.02L81.8 462.48L83.21 461.94L84.62 461.39L86.03 460.84L87.44 460.29L88.85 459.73L90.26 459.17L91.67 458.6L93.08 458.03L94.49 457.46L95.9 456.88L97.31 456.3L98.72 455.72L100.13 455.13L101.54 454.54L102.95 453.94L104.36 453.34L105.77 452.73L107.18 452.12L108.59 451.51L110 450.89L111.41 450.27L112.82 449.64L114.23 449.01L115.64 448.38L117.05 447.74L118.46 447.09L119.87 446.44L121.28 445.79L122.69 445.13L124.1 444.47L125.51 443.8L126.92 443.12L128.33 442.45L129.74 441.76L131.15 441.08L132.56 440.38L133.97 439.68L135.38 438.98L136.79 438.27L138.2 437.56L139.61 436.84L141.02 436.11L142.43 435.38L143.84 434.65L145.25 433.91L146.66 433.16L148.07 432.41L149.48 431.65L150.89 430.88L152.3 430.11L153.71 429.33L155.12 428.55L156.53 427.76L157.94 426.97L159.35 426.16L160.76 425.36L162.17 424.54L163.58 423.72L164.99 422.89L166.4 422.06L167.81 421.22L169.22 420.37L170.63 419.51L172.04 418.65L173.45 417.78L174.86 416.91L176.27 416.02L177.68 415.13L179.09 414.23L180.5 413.32L181.91 412.41L183.32 411.49L184.73 410.56L186.14 409.62L187.55 408.67L188.96 407.72L190.37 406.76L191.78 405.79L193.19 404.81L194.61 403.82L196.02 402.82L197.43 401.81L198.84 400.8L200.25 399.78L201.66 398.74L203.07 397.7L204.48 396.65L205.89 395.59L207.3 394.51L208.71 393.43L210.12 392.34L211.53 391.24L212.94 390.13L214.35 389L215.76 387.87L217.17 386.73L218.58 385.57L219.99 384.4L221.4 383.23L222.81 382.04L224.22 380.84L225.63 379.63L227.04 378.4L228.45 377.17L229.86 375.92L231.27 374.66L232.68 373.38L234.09 372.1L235.5 370.8L236.91 369.48L238.32 368.16L239.73 366.82L241.14 365.46L242.55 364.1L243.96 362.71L245.37 361.32L246.78 359.9L248.19 358.48L249.6 357.04L251.01 355.58L252.42 354.11L253.83 352.62L255.24 351.11L256.65 349.59L258.06 348.05L259.47 346.5L260.88 344.92L262.29 343.33L263.7 341.72L265.11 340.1L266.52 338.45L267.93 336.79L269.34 335.1L270.75 333.4L272.16 331.68L273.57 329.93L274.98 328.17L276.39 326.39L277.8 324.58L279.21 322.75L280.62 320.9L282.03 319.03L283.44 317.13L284.85 315.22L286.26 313.27L287.67 311.31L289.08 309.31L290.49 307.3L291.9 305.25L293.31 303.19L294.72 301.09L296.13 298.97L297.54 296.82L298.95 294.64L300.36 292.43L301.77 290.2L303.18 287.93L304.59 285.63L306 283.3L307.41 280.94L308.82 278.55L310.23 276.12L311.64 273.66L313.05 271.17L314.46 268.64L315.87 266.07L317.28 263.47L318.69 260.83L320.1 258.15L321.51 255.43L322.92 252.67L324.33 249.87L325.74 247.03L327.15 244.15L328.56 241.22L329.97 238.24L331.38 235.22L332.79 232.16L334.2 229.04" stroke="#40ece8" stroke-width="1.1" fill="none"/>
<path d="M53.6 481.43L55.01 480.89L56.42 480.35L57.83 479.8L59.24 479.26L60.65 478.7L62.06 478.15L63.47 477.59L64.88 477.03L66.29 476.47L67.7 475.9L69.11 475.33L70.52 474.76L71.93 474.18L73.34 473.61L74.75 473.02L76.16 472.44L77.57 471.85L78.98 471.26L80.39 470.66L81.8 470.06L83.21 469.46L84.62 468.85L86.03 468.25L87.44 467.63L88.85 467.02L90.26 466.4L91.67 465.78L93.08 465.15L94.49 464.52L95.9 463.89L97.31 463.25L98.72 462.61L100.13 461.96L101.54 461.31L102.95 460.66L104.36 460L105.77 459.34L107.18 458.68L108.59 458.01L110 457.34L111.41 456.67L112.82 455.99L114.23 455.3L115.64 454.61L117.05 453.92L118.46 453.22L119.87 452.52L121.28 451.82L122.69 451.11L124.1 450.4L125.51 449.68L126.92 448.96L128.33 448.23L129.74 447.5L131.15 446.76L132.56 446.02L133.97 445.28L135.38 444.53L136.79 443.77L138.2 443.01L139.61 442.25L141.02 441.48L142.43 440.71L143.84 439.93L145.25 439.14L146.66 438.35L148.07 437.56L149.48 436.76L150.89 435.96L152.3 435.15L153.71 434.33L155.12 433.51L156.53 432.69L157.94 431.85L159.35 431.02L160.76 430.18L162.17 429.33L163.58 428.48L164.99 427.62L166.4 426.75L167.81 425.88L169.22 425L170.63 424.12L172.04 423.23L173.45 422.34L174.86 421.44L176.27 420.53L177.68 419.62L179.09 418.7L180.5 417.77L181.91 416.84L183.32 415.9L184.73 414.95L186.14 414L187.55 413.04L188.96 412.07L190.37 411.1L191.78 410.12L193.19 409.13L194.61 408.14L196.02 407.14L197.43 406.13L198.84 405.11L200.25 404.09L201.66 403.06L203.07 402.02L204.48 400.97L205.89 399.92L207.3 398.85L208.71 397.78L210.12 396.71L211.53 395.62L212.94 394.52L214.35 393.42L215.76 392.31L217.17 391.19L218.58 390.06L219.99 388.92L221.4 387.78L222.81 386.62L224.22 385.46L225.63 384.29L227.04 383.1L228.45 381.91L229.86 380.71L231.27 379.5L232.68 378.28L234.09 377.05L235.5 375.81L236.91 374.56L238.32 373.3L239.73 372.03L241.14 370.74L242.55 369.45L243.96 368.15L245.37 366.84L246.78 365.51L248.19 364.18L249.6 362.83L251.01 361.47L252.42 360.1L253.83 358.72L255.24 357.33L256.65 355.92L258.06 354.5L259.47 353.08L260.88 351.63L262.29 350.18L263.7 348.71L265.11 347.23L266.52 345.74L267.93 344.23L269.34 342.71L270.75 341.18L272.16 339.63L273.57 338.07L274.98 336.49L276.39 334.9L277.8 333.29L279.21 331.67L280.62 330.04L282.03 328.39L283.44 326.72L284.85 325.04L286.26 323.35L287.67 321.63L289.08 319.9L290.49 318.16L291.9 316.39L293.31 314.61L294.72 312.82L296.13 311L297.54 309.17L298.95 307.32L300.36 305.45L301.77 303.56L303.18 301.65L304.59 299.73L306 297.78L307.41 295.82L308.82 293.83L310.23 291.82L311.64 289.8L313.05 287.75L314.46 285.68L315.87 283.59L317.28 281.48L318.69 279.34L320.1 277.18L321.51 275L322.92 272.8L324.33 270.57L325.74 268.32L327.15 266.04L328.56 263.74L329.97 261.41L331.38 259.05L332.79 256.67L334.2 254.27" stroke="#7232d8" stroke-width="1.1" fill="none"/>
<circle cx="62.3" cy="461.8" r="2.0" fill="none" stroke="#40ece8" stroke-width="1.4"/><circle cx="68.8" cy="467.3" r="2.0" fill="none" stroke="#40ece8" stroke-width="1.4"/><circle cx="75.3" cy="465.6" r="2.0" fill="none" stroke="#40ece8" stroke-width="1.4"/><circle cx="82.4" cy="463.8" r="2.0" fill="none" stroke="#40ece8" stroke-width="1.4"/><circle cx="89.6" cy="461.4" r="2.0" fill="none" stroke="#40ece8" stroke-width="1.4"/><circle cx="97.3" cy="459.4" r="2.0" fill="none" stroke="#40ece8" stroke-width="1.4"/><circle cx="104.2" cy="455.6" r="2.0" fill="none" stroke="#40ece8" stroke-width="1.4"/><circle cx="111.9" cy="452.4" r="2.0" fill="none" stroke="#40ece8" stroke-width="1.4"/><circle cx="119.7" cy="449.5" r="2.0" fill="none" stroke="#40ece8" stroke-width="1.4"/><circle cx="127.4" cy="445.3" r="2.0" fill="none" stroke="#40ece8" stroke-width="1.4"/><circle cx="135.2" cy="441.1" r="2.0" fill="none" stroke="#40ece8" stroke-width="1.4"/><circle cx="142.9" cy="435.8" r="2.0" fill="none" stroke="#40ece8" stroke-width="1.4"/><circle cx="150.7" cy="431.6" r="2.0" fill="none" stroke="#40ece8" stroke-width="1.4"/><circle cx="159" cy="426.8" r="2.0" fill="none" stroke="#40ece8" stroke-width="1.4"/><circle cx="167.3" cy="422.6" r="2.0" fill="none" stroke="#40ece8" stroke-width="1.4"/><circle cx="175.7" cy="417.9" r="2.0" fill="none" stroke="#40ece8" stroke-width="1.4"/><circle cx="183.9" cy="411.9" r="2.0" fill="none" stroke="#40ece8" stroke-width="1.4"/><circle cx="192.8" cy="407.5" r="2.0" fill="none" stroke="#40ece8" stroke-width="1.4"/><circle cx="201.6" cy="398.7" r="2.0" fill="none" stroke="#40ece8" stroke-width="1.4"/><circle cx="210.4" cy="390.6" r="2.0" fill="none" stroke="#40ece8" stroke-width="1.4"/><circle cx="219.9" cy="382.6" r="2.0" fill="none" stroke="#40ece8" stroke-width="1.4"/><circle cx="228.7" cy="374.5" r="2.0" fill="none" stroke="#40ece8" stroke-width="1.4"/><circle cx="239" cy="366.4" r="2.0" fill="none" stroke="#40ece8" stroke-width="1.4"/><circle cx="247.8" cy="357.6" r="2.0" fill="none" stroke="#40ece8" stroke-width="1.4"/><circle cx="258.3" cy="348" r="2.0" fill="none" stroke="#40ece8" stroke-width="1.4"/><circle cx="268.3" cy="338" r="2.0" fill="none" stroke="#40ece8" stroke-width="1.4"/><circle cx="277.2" cy="327.7" r="2.0" fill="none" stroke="#40ece8" stroke-width="1.4"/><circle cx="287.4" cy="315.2" r="2.0" fill="none" stroke="#40ece8" stroke-width="1.4"/><circle cx="298.4" cy="294.7" r="2.0" fill="none" stroke="#40ece8" stroke-width="1.4"/>
<path d="M76.57 469.84L79.27 473.89H73.87Z" fill="none" stroke="#7232d8" stroke-width="1.3" stroke-linejoin="miter"/><path d="M83.57 466.88L86.27 470.93H80.87Z" fill="none" stroke="#7232d8" stroke-width="1.3" stroke-linejoin="miter"/><path d="M90.67 463.79L93.37 467.84H87.97Z" fill="none" stroke="#7232d8" stroke-width="1.3" stroke-linejoin="miter"/><path d="M97.88 460.56L100.58 464.61H95.18Z" fill="none" stroke="#7232d8" stroke-width="1.3" stroke-linejoin="miter"/><path d="M105.2 457.18L107.9 461.23H102.5Z" fill="none" stroke="#7232d8" stroke-width="1.3" stroke-linejoin="miter"/><path d="M112.63 453.65L115.33 457.7H109.93Z" fill="none" stroke="#7232d8" stroke-width="1.3" stroke-linejoin="miter"/><path d="M120.18 449.94L122.88 453.99H117.48Z" fill="none" stroke="#7232d8" stroke-width="1.3" stroke-linejoin="miter"/><path d="M127.84 446.05L130.54 450.1H125.14Z" fill="none" stroke="#7232d8" stroke-width="1.3" stroke-linejoin="miter"/><path d="M135.63 441.96L138.33 446.01H132.93Z" fill="none" stroke="#7232d8" stroke-width="1.3" stroke-linejoin="miter"/><path d="M143.54 437.67L146.24 441.72H140.84Z" fill="none" stroke="#7232d8" stroke-width="1.3" stroke-linejoin="miter"/><path d="M151.57 433.14L154.27 437.19H148.87Z" fill="none" stroke="#7232d8" stroke-width="1.3" stroke-linejoin="miter"/><path d="M159.73 428.36L162.43 432.41H157.03Z" fill="none" stroke="#7232d8" stroke-width="1.3" stroke-linejoin="miter"/><path d="M168.03 423.32L170.73 427.37H165.33Z" fill="none" stroke="#7232d8" stroke-width="1.3" stroke-linejoin="miter"/><path d="M176.46 417.98L179.16 422.03H173.76Z" fill="none" stroke="#7232d8" stroke-width="1.3" stroke-linejoin="miter"/><path d="M185.03 412.32L187.73 416.37H182.33Z" fill="none" stroke="#7232d8" stroke-width="1.3" stroke-linejoin="miter"/><path d="M193.74 406.32L196.44 410.37H191.04Z" fill="none" stroke="#7232d8" stroke-width="1.3" stroke-linejoin="miter"/><path d="M202.6 399.93L205.3 403.98H199.9Z" fill="none" stroke="#7232d8" stroke-width="1.3" stroke-linejoin="miter"/><path d="M211.61 393.13L214.31 397.18H208.91Z" fill="none" stroke="#7232d8" stroke-width="1.3" stroke-linejoin="miter"/><path d="M220.77 385.86L223.47 389.91H218.07Z" fill="none" stroke="#7232d8" stroke-width="1.3" stroke-linejoin="miter"/><path d="M230.08 378.09L232.78 382.14H227.38Z" fill="none" stroke="#7232d8" stroke-width="1.3" stroke-linejoin="miter"/><path d="M239.56 369.74L242.26 373.79H236.86Z" fill="none" stroke="#7232d8" stroke-width="1.3" stroke-linejoin="miter"/><path d="M249.21 360.77L251.91 364.82H246.51Z" fill="none" stroke="#7232d8" stroke-width="1.3" stroke-linejoin="miter"/><path d="M259.02 351.1L261.72 355.15H256.32Z" fill="none" stroke="#7232d8" stroke-width="1.3" stroke-linejoin="miter"/><path d="M269.01 340.63L271.71 344.68H266.31Z" fill="none" stroke="#7232d8" stroke-width="1.3" stroke-linejoin="miter"/><path d="M279.18 329.28L281.88 333.33H276.48Z" fill="none" stroke="#7232d8" stroke-width="1.3" stroke-linejoin="miter"/><path d="M289.53 316.91L292.23 320.96H286.83Z" fill="none" stroke="#7232d8" stroke-width="1.3" stroke-linejoin="miter"/><path d="M300.07 303.4L302.77 307.45H297.37Z" fill="none" stroke="#7232d8" stroke-width="1.3" stroke-linejoin="miter"/>
</g>
<g clip-path="url(#cd)">
<path d="M385.7 472.41L387.11 471.86L388.52 471.3L389.93 470.74L391.34 470.17L392.75 469.61L394.15 469.03L395.56 468.46L396.97 467.88L398.38 467.3L399.79 466.72L401.2 466.13L402.61 465.54L404.02 464.94L405.43 464.34L406.84 463.74L408.24 463.13L409.65 462.52L411.06 461.91L412.47 461.29L413.88 460.66L415.29 460.04L416.7 459.41L418.11 458.77L419.52 458.14L420.93 457.49L422.34 456.85L423.74 456.2L425.15 455.54L426.56 454.88L427.97 454.22L429.38 453.55L430.79 452.88L432.2 452.21L433.61 451.52L435.02 450.84L436.43 450.15L437.83 449.46L439.24 448.76L440.65 448.05L442.06 447.35L443.47 446.63L444.88 445.91L446.29 445.19L447.7 444.46L449.11 443.73L450.52 442.99L451.93 442.25L453.33 441.5L454.74 440.75L456.15 439.99L457.56 439.23L458.97 438.46L460.38 437.69L461.79 436.91L463.2 436.12L464.61 435.33L466.02 434.54L467.42 433.73L468.83 432.93L470.24 432.11L471.65 431.29L473.06 430.47L474.47 429.64L475.88 428.8L477.29 427.96L478.7 427.11L480.11 426.25L481.52 425.39L482.92 424.52L484.33 423.64L485.74 422.76L487.15 421.87L488.56 420.98L489.97 420.08L491.38 419.17L492.79 418.25L494.2 417.33L495.61 416.4L497.01 415.47L498.42 414.52L499.83 413.57L501.24 412.61L502.65 411.64L504.06 410.67L505.47 409.69L506.88 408.7L508.29 407.7L509.7 406.7L511.11 405.68L512.51 404.66L513.92 403.63L515.33 402.6L516.74 401.55L518.15 400.49L519.56 399.43L520.97 398.36L522.38 397.28L523.79 396.19L525.2 395.09L526.6 393.98L528.01 392.86L529.42 391.73L530.83 390.6L532.24 389.45L533.65 388.29L535.06 387.13L536.47 385.95L537.88 384.76L539.29 383.57L540.69 382.36L542.1 381.14L543.51 379.91L544.92 378.67L546.33 377.42L547.74 376.16L549.15 374.88L550.56 373.6L551.97 372.3L553.38 370.99L554.79 369.67L556.19 368.34L557.6 367L559.01 365.64L560.42 364.27L561.83 362.89L563.24 361.49L564.65 360.08L566.06 358.66L567.47 357.22L568.88 355.77L570.28 354.31L571.69 352.83L573.1 351.34L574.51 349.83L575.92 348.31L577.33 346.77L578.74 345.22L580.15 343.65L581.56 342.07L582.97 340.47L584.38 338.85L585.78 337.22L587.19 335.57L588.6 333.91L590.01 332.23L591.42 330.53L592.83 328.81L594.24 327.07L595.65 325.32L597.06 323.54L598.47 321.75L599.87 319.94L601.28 318.11L602.69 316.26L604.1 314.39L605.51 312.5L606.92 310.58L608.33 308.65L609.74 306.7L611.15 304.72L612.56 302.72L613.97 300.7L615.37 298.65L616.78 296.58L618.19 294.49L619.6 292.38L621.01 290.23L622.42 288.07L623.83 285.88L625.24 283.66L626.65 281.41L628.06 279.14L629.46 276.84L630.87 274.52L632.28 272.16L633.69 269.78L635.1 267.36L636.51 264.92L637.92 262.45L639.33 259.94L640.74 257.4L642.15 254.83L643.56 252.23L644.96 249.59L646.37 246.92L647.78 244.21L649.19 241.47L650.6 238.69L652.01 235.88L653.42 233.03L654.83 230.13L656.24 227.2L657.65 224.23L659.05 221.22L660.46 218.16L661.87 215.06L663.28 211.92L664.69 208.73L666.1 205.5" stroke="#f5a52a" stroke-width="1.1" fill="none"/>
<path d="M385.7 480.78L387.11 480.24L388.52 479.69L389.93 479.14L391.34 478.58L392.75 478.02L394.15 477.46L395.56 476.9L396.97 476.33L398.38 475.76L399.79 475.19L401.2 474.62L402.61 474.04L404.02 473.46L405.43 472.87L406.84 472.28L408.24 471.69L409.65 471.1L411.06 470.5L412.47 469.9L413.88 469.3L415.29 468.69L416.7 468.08L418.11 467.46L419.52 466.85L420.93 466.22L422.34 465.6L423.74 464.97L425.15 464.34L426.56 463.7L427.97 463.07L429.38 462.42L430.79 461.78L432.2 461.13L433.61 460.47L435.02 459.82L436.43 459.15L437.83 458.49L439.24 457.82L440.65 457.15L442.06 456.47L443.47 455.79L444.88 455.11L446.29 454.42L447.7 453.72L449.11 453.03L450.52 452.33L451.93 451.62L453.33 450.91L454.74 450.2L456.15 449.48L457.56 448.76L458.97 448.03L460.38 447.3L461.79 446.57L463.2 445.83L464.61 445.08L466.02 444.33L467.42 443.58L468.83 442.82L470.24 442.06L471.65 441.29L473.06 440.52L474.47 439.74L475.88 438.96L477.29 438.17L478.7 437.38L480.11 436.58L481.52 435.78L482.92 434.97L484.33 434.16L485.74 433.34L487.15 432.52L488.56 431.69L489.97 430.86L491.38 430.02L492.79 429.18L494.2 428.33L495.61 427.47L497.01 426.61L498.42 425.74L499.83 424.87L501.24 423.99L502.65 423.11L504.06 422.22L505.47 421.32L506.88 420.42L508.29 419.51L509.7 418.6L511.11 417.68L512.51 416.75L513.92 415.82L515.33 414.88L516.74 413.93L518.15 412.98L519.56 412.02L520.97 411.05L522.38 410.08L523.79 409.1L525.2 408.11L526.6 407.12L528.01 406.12L529.42 405.11L530.83 404.1L532.24 403.08L533.65 402.05L535.06 401.01L536.47 399.97L537.88 398.91L539.29 397.85L540.69 396.79L542.1 395.71L543.51 394.63L544.92 393.54L546.33 392.44L547.74 391.33L549.15 390.21L550.56 389.09L551.97 387.96L553.38 386.82L554.79 385.67L556.19 384.51L557.6 383.34L559.01 382.16L560.42 380.98L561.83 379.78L563.24 378.58L564.65 377.37L566.06 376.14L567.47 374.91L568.88 373.67L570.28 372.42L571.69 371.15L573.1 369.88L574.51 368.6L575.92 367.31L577.33 366L578.74 364.69L580.15 363.36L581.56 362.03L582.97 360.68L584.38 359.32L585.78 357.95L587.19 356.57L588.6 355.18L590.01 353.78L591.42 352.36L592.83 350.94L594.24 349.5L595.65 348.04L597.06 346.58L598.47 345.1L599.87 343.61L601.28 342.11L602.69 340.59L604.1 339.07L605.51 337.52L606.92 335.97L608.33 334.4L609.74 332.81L611.15 331.21L612.56 329.6L613.97 327.97L615.37 326.33L616.78 324.67L618.19 323L619.6 321.31L621.01 319.61L622.42 317.89L623.83 316.16L625.24 314.41L626.65 312.64L628.06 310.85L629.46 309.05L630.87 307.23L632.28 305.39L633.69 303.54L635.1 301.67L636.51 299.78L637.92 297.87L639.33 295.94L640.74 293.99L642.15 292.03L643.56 290.04L644.96 288.03L646.37 286.01L647.78 283.96L649.19 281.89L650.6 279.8L652.01 277.69L653.42 275.56L654.83 273.41L656.24 271.23L657.65 269.03L659.05 266.81L660.46 264.56L661.87 262.29L663.28 259.99L664.69 257.67L666.1 255.33" stroke="#7232d8" stroke-width="1.1" fill="none"/>
<polygon points="440.96,444.6 441.84,446.7 444.1,446.88 442.38,448.36 442.9,450.57 440.96,449.38 439.02,450.57 439.55,448.36 437.82,446.88 440.09,446.7" fill="#ffe2a0" stroke="#f5a52a" stroke-width="1.1" stroke-linejoin="round"/><polygon points="448.45,440.78 449.32,442.87 451.59,443.06 449.86,444.53 450.39,446.75 448.45,445.56 446.51,446.75 447.03,444.53 445.31,443.06 447.57,442.87" fill="#ffe2a0" stroke="#f5a52a" stroke-width="1.1" stroke-linejoin="round"/><polygon points="456.05,436.75 456.92,438.85 459.19,439.03 457.46,440.51 457.99,442.72 456.05,441.53 454.11,442.72 454.63,440.51 452.91,439.03 455.17,438.85" fill="#ffe2a0" stroke="#f5a52a" stroke-width="1.1" stroke-linejoin="round"/><polygon points="463.77,432.5 464.64,434.6 466.9,434.78 465.18,436.26 465.71,438.47 463.77,437.29 461.83,438.47 462.35,436.26 460.63,434.78 462.89,434.6" fill="#ffe2a0" stroke="#f5a52a" stroke-width="1.1" stroke-linejoin="round"/><polygon points="471.61,428.02 472.48,430.12 474.74,430.3 473.02,431.78 473.55,433.99 471.61,432.8 469.67,433.99 470.19,431.78 468.47,430.3 470.73,430.12" fill="#ffe2a0" stroke="#f5a52a" stroke-width="1.1" stroke-linejoin="round"/><polygon points="479.57,423.28 480.44,425.37 482.71,425.56 480.98,427.03 481.51,429.25 479.57,428.06 477.63,429.25 478.16,427.03 476.43,425.56 478.7,425.37" fill="#ffe2a0" stroke="#f5a52a" stroke-width="1.1" stroke-linejoin="round"/><polygon points="487.66,418.25 488.54,420.35 490.8,420.53 489.08,422.01 489.6,424.22 487.66,423.03 485.72,424.22 486.25,422.01 484.53,420.53 486.79,420.35" fill="#ffe2a0" stroke="#f5a52a" stroke-width="1.1" stroke-linejoin="round"/><polygon points="495.89,412.92 496.76,415.01 499.02,415.2 497.3,416.67 497.83,418.89 495.89,417.7 493.95,418.89 494.47,416.67 492.75,415.2 495.01,415.01" fill="#ffe2a0" stroke="#f5a52a" stroke-width="1.1" stroke-linejoin="round"/><polygon points="504.24,407.24 505.12,409.34 507.38,409.52 505.66,411 506.18,413.21 504.24,412.03 502.3,413.21 502.83,411 501.1,409.52 503.37,409.34" fill="#ffe2a0" stroke="#f5a52a" stroke-width="1.1" stroke-linejoin="round"/><polygon points="512.74,401.2 513.61,403.3 515.88,403.48 514.15,404.96 514.68,407.17 512.74,405.99 510.8,407.17 511.32,404.96 509.6,403.48 511.86,403.3" fill="#ffe2a0" stroke="#f5a52a" stroke-width="1.1" stroke-linejoin="round"/><polygon points="521.37,394.75 522.24,396.85 524.51,397.03 522.78,398.51 523.31,400.72 521.37,399.54 519.43,400.72 519.96,398.51 518.23,397.03 520.5,396.85" fill="#ffe2a0" stroke="#f5a52a" stroke-width="1.1" stroke-linejoin="round"/><polygon points="530.15,387.85 531.02,389.95 533.29,390.13 531.56,391.61 532.09,393.82 530.15,392.63 528.21,393.82 528.74,391.61 527.01,390.13 529.28,389.95" fill="#ffe2a0" stroke="#f5a52a" stroke-width="1.1" stroke-linejoin="round"/><polygon points="539.07,380.45 539.95,382.55 542.21,382.73 540.49,384.21 541.01,386.42 539.07,385.23 537.13,386.42 537.66,384.21 535.94,382.73 538.2,382.55" fill="#ffe2a0" stroke="#f5a52a" stroke-width="1.1" stroke-linejoin="round"/><polygon points="548.15,372.49 549.02,374.59 551.29,374.77 549.56,376.25 550.09,378.46 548.15,377.27 546.21,378.46 546.74,376.25 545.01,374.77 547.28,374.59" fill="#ffe2a0" stroke="#f5a52a" stroke-width="1.1" stroke-linejoin="round"/><polygon points="557.38,363.91 558.26,366.01 560.52,366.19 558.79,367.67 559.32,369.88 557.38,368.69 555.44,369.88 555.97,367.67 554.24,366.19 556.51,366.01" fill="#ffe2a0" stroke="#f5a52a" stroke-width="1.1" stroke-linejoin="round"/><polygon points="566.77,354.63 567.65,356.73 569.91,356.91 568.19,358.39 568.71,360.6 566.77,359.42 564.83,360.6 565.36,358.39 563.63,356.91 565.9,356.73" fill="#ffe2a0" stroke="#f5a52a" stroke-width="1.1" stroke-linejoin="round"/><polygon points="576.33,344.57 577.2,346.67 579.47,346.85 577.74,348.33 578.27,350.54 576.33,349.35 574.39,350.54 574.92,348.33 573.19,346.85 575.45,346.67" fill="#ffe2a0" stroke="#f5a52a" stroke-width="1.1" stroke-linejoin="round"/>
<path d="M408.65 469.09L411.35 473.14H405.95Z" fill="none" stroke="#7232d8" stroke-width="1.3" stroke-linejoin="miter"/><path d="M415.64 466.1L418.34 470.15H412.94Z" fill="none" stroke="#7232d8" stroke-width="1.3" stroke-linejoin="miter"/><path d="M422.74 462.99L425.44 467.04H420.04Z" fill="none" stroke="#7232d8" stroke-width="1.3" stroke-linejoin="miter"/><path d="M429.95 459.73L432.65 463.78H427.25Z" fill="none" stroke="#7232d8" stroke-width="1.3" stroke-linejoin="miter"/><path d="M437.26 456.33L439.96 460.38H434.56Z" fill="none" stroke="#7232d8" stroke-width="1.3" stroke-linejoin="miter"/><path d="M444.69 452.77L447.39 456.82H441.99Z" fill="none" stroke="#7232d8" stroke-width="1.3" stroke-linejoin="miter"/><path d="M452.23 449.04L454.93 453.09H449.53Z" fill="none" stroke="#7232d8" stroke-width="1.3" stroke-linejoin="miter"/><path d="M459.89 445.13L462.59 449.18H457.19Z" fill="none" stroke="#7232d8" stroke-width="1.3" stroke-linejoin="miter"/><path d="M467.67 441.02L470.37 445.07H464.97Z" fill="none" stroke="#7232d8" stroke-width="1.3" stroke-linejoin="miter"/><path d="M475.57 436.7L478.27 440.75H472.87Z" fill="none" stroke="#7232d8" stroke-width="1.3" stroke-linejoin="miter"/><path d="M483.6 432.15L486.3 436.2H480.9Z" fill="none" stroke="#7232d8" stroke-width="1.3" stroke-linejoin="miter"/><path d="M491.76 427.36L494.46 431.41H489.06Z" fill="none" stroke="#7232d8" stroke-width="1.3" stroke-linejoin="miter"/><path d="M500.05 422.31L502.75 426.36H497.35Z" fill="none" stroke="#7232d8" stroke-width="1.3" stroke-linejoin="miter"/><path d="M508.47 416.96L511.17 421.01H505.77Z" fill="none" stroke="#7232d8" stroke-width="1.3" stroke-linejoin="miter"/><path d="M517.04 411.3L519.74 415.35H514.34Z" fill="none" stroke="#7232d8" stroke-width="1.3" stroke-linejoin="miter"/><path d="M525.74 405.3L528.44 409.35H523.04Z" fill="none" stroke="#7232d8" stroke-width="1.3" stroke-linejoin="miter"/><path d="M534.59 398.92L537.29 402.97H531.89Z" fill="none" stroke="#7232d8" stroke-width="1.3" stroke-linejoin="miter"/><path d="M543.59 392.14L546.29 396.19H540.89Z" fill="none" stroke="#7232d8" stroke-width="1.3" stroke-linejoin="miter"/><path d="M552.75 384.9L555.45 388.95H550.05Z" fill="none" stroke="#7232d8" stroke-width="1.3" stroke-linejoin="miter"/><path d="M562.06 377.16L564.76 381.21H559.36Z" fill="none" stroke="#7232d8" stroke-width="1.3" stroke-linejoin="miter"/><path d="M571.53 368.87L574.23 372.92H568.83Z" fill="none" stroke="#7232d8" stroke-width="1.3" stroke-linejoin="miter"/><path d="M581.17 359.97L583.87 364.02H578.47Z" fill="none" stroke="#7232d8" stroke-width="1.3" stroke-linejoin="miter"/><path d="M590.97 350.38L593.67 354.43H588.27Z" fill="none" stroke="#7232d8" stroke-width="1.3" stroke-linejoin="miter"/><path d="M600.96 340.03L603.66 344.08H598.26Z" fill="none" stroke="#7232d8" stroke-width="1.3" stroke-linejoin="miter"/><path d="M611.12 328.82L613.82 332.87H608.42Z" fill="none" stroke="#7232d8" stroke-width="1.3" stroke-linejoin="miter"/><path d="M621.46 316.63L624.16 320.68H618.76Z" fill="none" stroke="#7232d8" stroke-width="1.3" stroke-linejoin="miter"/><path d="M632 303.34L634.7 307.39H629.3Z" fill="none" stroke="#7232d8" stroke-width="1.3" stroke-linejoin="miter"/>
</g>
<rect x="54" y="11.5" width="280.5" height="209" fill="none" stroke="#555555" stroke-width="1.4"/>
<rect x="382" y="10" width="280.8" height="209.4" fill="none" stroke="#555555" stroke-width="1.4"/>
<rect x="53.6" y="277.6" width="280.6" height="209.4" fill="none" stroke="#555555" stroke-width="1.4"/>
<rect x="385.7" y="277.2" width="280.4" height="209.1" fill="none" stroke="#555555" stroke-width="1.4"/>
<path d="M54 220.5v-4.0M54 11.5v4.0M68.07 220.5v-2.2M68.07 11.5v2.2M76.31 220.5v-2.2M76.31 11.5v2.2M82.15 220.5v-2.2M82.15 11.5v2.2M86.68 220.5v-2.2M86.68 11.5v2.2M90.38 220.5v-2.2M90.38 11.5v2.2M93.51 220.5v-2.2M93.51 11.5v2.2M96.22 220.5v-2.2M96.22 11.5v2.2M98.61 220.5v-2.2M98.61 11.5v2.2M100.75 220.5v-4.0M100.75 11.5v4.0M114.82 220.5v-2.2M114.82 11.5v2.2M123.06 220.5v-2.2M123.06 11.5v2.2M128.9 220.5v-2.2M128.9 11.5v2.2M133.43 220.5v-2.2M133.43 11.5v2.2M137.13 220.5v-2.2M137.13 11.5v2.2M140.26 220.5v-2.2M140.26 11.5v2.2M142.97 220.5v-2.2M142.97 11.5v2.2M145.36 220.5v-2.2M145.36 11.5v2.2M147.5 220.5v-4.0M147.5 11.5v4.0M161.57 220.5v-2.2M161.57 11.5v2.2M169.81 220.5v-2.2M169.81 11.5v2.2M175.65 220.5v-2.2M175.65 11.5v2.2M180.18 220.5v-2.2M180.18 11.5v2.2M183.88 220.5v-2.2M183.88 11.5v2.2M187.01 220.5v-2.2M187.01 11.5v2.2M189.72 220.5v-2.2M189.72 11.5v2.2M192.11 220.5v-2.2M192.11 11.5v2.2M194.25 220.5v-4.0M194.25 11.5v4.0M208.32 220.5v-2.2M208.32 11.5v2.2M216.56 220.5v-2.2M216.56 11.5v2.2M222.4 220.5v-2.2M222.4 11.5v2.2M226.93 220.5v-2.2M226.93 11.5v2.2M230.63 220.5v-2.2M230.63 11.5v2.2M233.76 220.5v-2.2M233.76 11.5v2.2M236.47 220.5v-2.2M236.47 11.5v2.2M238.86 220.5v-2.2M238.86 11.5v2.2M241 220.5v-4.0M241 11.5v4.0M255.07 220.5v-2.2M255.07 11.5v2.2M263.31 220.5v-2.2M263.31 11.5v2.2M269.15 220.5v-2.2M269.15 11.5v2.2M273.68 220.5v-2.2M273.68 11.5v2.2M277.38 220.5v-2.2M277.38 11.5v2.2M280.51 220.5v-2.2M280.51 11.5v2.2M283.22 220.5v-2.2M283.22 11.5v2.2M285.61 220.5v-2.2M285.61 11.5v2.2M287.75 220.5v-4.0M287.75 11.5v4.0M301.82 220.5v-2.2M301.82 11.5v2.2M310.06 220.5v-2.2M310.06 11.5v2.2M315.9 220.5v-2.2M315.9 11.5v2.2M320.43 220.5v-2.2M320.43 11.5v2.2M324.13 220.5v-2.2M324.13 11.5v2.2M327.26 220.5v-2.2M327.26 11.5v2.2M329.97 220.5v-2.2M329.97 11.5v2.2M332.36 220.5v-2.2M332.36 11.5v2.2M334.5 220.5v-4.0M334.5 11.5v4.0M54 219.07h2.2M334.5 219.07h-2.2M54 202.04h2.2M334.5 202.04h-2.2M54 188.83h2.2M334.5 188.83h-2.2M54 178.04h2.2M334.5 178.04h-2.2M54 168.91h2.2M334.5 168.91h-2.2M54 161.01h2.2M334.5 161.01h-2.2M54 154.04h2.2M334.5 154.04h-2.2M54 147.8h4.0M334.5 147.8h-4.0M54 106.77h2.2M334.5 106.77h-2.2M54 82.77h2.2M334.5 82.77h-2.2M54 65.74h2.2M334.5 65.74h-2.2M54 52.53h2.2M334.5 52.53h-2.2M54 41.74h2.2M334.5 41.74h-2.2M54 32.61h2.2M334.5 32.61h-2.2M54 24.71h2.2M334.5 24.71h-2.2M54 17.74h2.2M334.5 17.74h-2.2M54 11.5h4.0M334.5 11.5h-4.0" stroke="#555555" stroke-width="1.2" fill="none"/>
<path d="M382.78 219.4v-2.2M382.78 10v2.2M384.79 219.4v-2.2M384.79 10v2.2M386.6 219.4v-4.0M386.6 10v4.0M398.48 219.4v-2.2M398.48 10v2.2M405.43 219.4v-2.2M405.43 10v2.2M410.36 219.4v-2.2M410.36 10v2.2M414.18 219.4v-2.2M414.18 10v2.2M417.3 219.4v-2.2M417.3 10v2.2M419.94 219.4v-2.2M419.94 10v2.2M422.23 219.4v-2.2M422.23 10v2.2M424.25 219.4v-2.2M424.25 10v2.2M426.06 219.4v-4.0M426.06 10v4.0M437.93 219.4v-2.2M437.93 10v2.2M444.88 219.4v-2.2M444.88 10v2.2M449.81 219.4v-2.2M449.81 10v2.2M453.64 219.4v-2.2M453.64 10v2.2M456.76 219.4v-2.2M456.76 10v2.2M459.4 219.4v-2.2M459.4 10v2.2M461.69 219.4v-2.2M461.69 10v2.2M463.71 219.4v-2.2M463.71 10v2.2M465.51 219.4v-4.0M465.51 10v4.0M477.39 219.4v-2.2M477.39 10v2.2M484.34 219.4v-2.2M484.34 10v2.2M489.27 219.4v-2.2M489.27 10v2.2M493.09 219.4v-2.2M493.09 10v2.2M496.22 219.4v-2.2M496.22 10v2.2M498.86 219.4v-2.2M498.86 10v2.2M501.15 219.4v-2.2M501.15 10v2.2M503.17 219.4v-2.2M503.17 10v2.2M504.97 219.4v-4.0M504.97 10v4.0M516.85 219.4v-2.2M516.85 10v2.2M523.8 219.4v-2.2M523.8 10v2.2M528.73 219.4v-2.2M528.73 10v2.2M532.55 219.4v-2.2M532.55 10v2.2M535.67 219.4v-2.2M535.67 10v2.2M538.32 219.4v-2.2M538.32 10v2.2M540.6 219.4v-2.2M540.6 10v2.2M542.62 219.4v-2.2M542.62 10v2.2M544.43 219.4v-4.0M544.43 10v4.0M556.31 219.4v-2.2M556.31 10v2.2M563.25 219.4v-2.2M563.25 10v2.2M568.18 219.4v-2.2M568.18 10v2.2M572.01 219.4v-2.2M572.01 10v2.2M575.13 219.4v-2.2M575.13 10v2.2M577.77 219.4v-2.2M577.77 10v2.2M580.06 219.4v-2.2M580.06 10v2.2M582.08 219.4v-2.2M582.08 10v2.2M583.89 219.4v-4.0M583.89 10v4.0M595.76 219.4v-2.2M595.76 10v2.2M602.71 219.4v-2.2M602.71 10v2.2M607.64 219.4v-2.2M607.64 10v2.2M611.47 219.4v-2.2M611.47 10v2.2M614.59 219.4v-2.2M614.59 10v2.2M617.23 219.4v-2.2M617.23 10v2.2M619.52 219.4v-2.2M619.52 10v2.2M621.54 219.4v-2.2M621.54 10v2.2M623.34 219.4v-4.0M623.34 10v4.0M635.22 219.4v-2.2M635.22 10v2.2M642.17 219.4v-2.2M642.17 10v2.2M647.1 219.4v-2.2M647.1 10v2.2M650.92 219.4v-2.2M650.92 10v2.2M654.05 219.4v-2.2M654.05 10v2.2M656.69 219.4v-2.2M656.69 10v2.2M658.98 219.4v-2.2M658.98 10v2.2M660.99 219.4v-2.2M660.99 10v2.2M662.8 219.4v-4.0M662.8 10v4.0M382 214.07h2.2M662.8 214.07h-2.2M382 208.99h2.2M662.8 208.99h-2.2M382 204.51h2.2M662.8 204.51h-2.2M382 200.5h4.0M662.8 200.5h-4.0M382 174.13h2.2M662.8 174.13h-2.2M382 158.7h2.2M662.8 158.7h-2.2M382 147.76h2.2M662.8 147.76h-2.2M382 139.27h2.2M662.8 139.27h-2.2M382 132.33h2.2M662.8 132.33h-2.2M382 126.47h2.2M662.8 126.47h-2.2M382 121.39h2.2M662.8 121.39h-2.2M382 116.91h2.2M662.8 116.91h-2.2M382 112.9h4.0M662.8 112.9h-4.0M382 86.53h2.2M662.8 86.53h-2.2M382 71.1h2.2M662.8 71.1h-2.2M382 60.16h2.2M662.8 60.16h-2.2M382 51.67h2.2M662.8 51.67h-2.2M382 44.73h2.2M662.8 44.73h-2.2M382 38.87h2.2M662.8 38.87h-2.2M382 33.79h2.2M662.8 33.79h-2.2M382 29.31h2.2M662.8 29.31h-2.2M382 25.3h4.0M662.8 25.3h-4.0" stroke="#555555" stroke-width="1.2" fill="none"/>
<path d="M53.6 487v-4.0M53.6 277.6v4.0M79.11 487v-2.2M79.11 277.6v2.2M104.62 487v-4.0M104.62 277.6v4.0M130.13 487v-2.2M130.13 277.6v2.2M155.64 487v-4.0M155.64 277.6v4.0M181.15 487v-2.2M181.15 277.6v2.2M206.65 487v-4.0M206.65 277.6v4.0M232.16 487v-2.2M232.16 277.6v2.2M257.67 487v-4.0M257.67 277.6v4.0M283.18 487v-2.2M283.18 277.6v2.2M308.69 487v-4.0M308.69 277.6v4.0M334.2 487v-2.2M334.2 277.6v2.2M53.6 487h4.0M334.2 487h-4.0M53.6 467.23h2.2M334.2 467.23h-2.2M53.6 447.46h4.0M334.2 447.46h-4.0M53.6 427.69h2.2M334.2 427.69h-2.2M53.6 407.92h4.0M334.2 407.92h-4.0M53.6 388.15h2.2M334.2 388.15h-2.2M53.6 368.38h4.0M334.2 368.38h-4.0M53.6 348.61h2.2M334.2 348.61h-2.2M53.6 328.84h4.0M334.2 328.84h-4.0M53.6 309.07h2.2M334.2 309.07h-2.2M53.6 289.3h4.0M334.2 289.3h-4.0" stroke="#555555" stroke-width="1.2" fill="none"/>
<path d="M385.7 486.3v-4.0M385.7 277.2v4.0M411.19 486.3v-2.2M411.19 277.2v2.2M436.68 486.3v-4.0M436.68 277.2v4.0M462.17 486.3v-2.2M462.17 277.2v2.2M487.66 486.3v-4.0M487.66 277.2v4.0M513.15 486.3v-2.2M513.15 277.2v2.2M538.65 486.3v-4.0M538.65 277.2v4.0M564.14 486.3v-2.2M564.14 277.2v2.2M589.63 486.3v-4.0M589.63 277.2v4.0M615.12 486.3v-2.2M615.12 277.2v2.2M640.61 486.3v-4.0M640.61 277.2v4.0M666.1 486.3v-2.2M666.1 277.2v2.2M385.7 486.3h4.0M666.1 486.3h-4.0M385.7 466.54h2.2M666.1 466.54h-2.2M385.7 446.78h4.0M666.1 446.78h-4.0M385.7 427.02h2.2M666.1 427.02h-2.2M385.7 407.26h4.0M666.1 407.26h-4.0M385.7 387.5h2.2M666.1 387.5h-2.2M385.7 367.74h4.0M666.1 367.74h-4.0M385.7 347.98h2.2M666.1 347.98h-2.2M385.7 328.22h4.0M666.1 328.22h-4.0M385.7 308.46h2.2M666.1 308.46h-2.2M385.7 288.7h4.0M666.1 288.7h-4.0" stroke="#555555" stroke-width="1.2" fill="none"/>
<line x1="58.6" y1="289.3" x2="331.2" y2="289.3" stroke="#c0c0c0" stroke-width="1" stroke-dasharray="1.2 2.9"/>
<line x1="390.7" y1="288.7" x2="663.1" y2="288.7" stroke="#c0c0c0" stroke-width="1" stroke-dasharray="1.2 2.9"/>
<g>
<text x="42.94" y="240.1" font-size="15.4">10</text><text x="60.06" y="230.8" font-size="9.0">1</text>
<text x="89.69" y="240.1" font-size="15.4">10</text><text x="106.81" y="230.8" font-size="9.0">2</text>
<text x="136.44" y="240.1" font-size="15.4">10</text><text x="153.56" y="230.8" font-size="9.0">3</text>
<text x="183.19" y="240.1" font-size="15.4">10</text><text x="200.31" y="230.8" font-size="9.0">4</text>
<text x="229.94" y="240.1" font-size="15.4">10</text><text x="247.06" y="230.8" font-size="9.0">5</text>
<text x="276.69" y="240.1" font-size="15.4">10</text><text x="293.81" y="230.8" font-size="9.0">6</text>
<text x="323.44" y="240.1" font-size="15.4">10</text><text x="340.56" y="230.8" font-size="9.0">7</text>
<text x="375.54" y="240.1" font-size="15.4">10</text><text x="392.66" y="230.8" font-size="9.0">0</text>
<text x="414.99" y="240.1" font-size="15.4">10</text><text x="432.12" y="230.8" font-size="9.0">1</text>
<text x="454.45" y="240.1" font-size="15.4">10</text><text x="471.57" y="230.8" font-size="9.0">2</text>
<text x="493.91" y="240.1" font-size="15.4">10</text><text x="511.03" y="230.8" font-size="9.0">3</text>
<text x="533.36" y="240.1" font-size="15.4">10</text><text x="550.49" y="230.8" font-size="9.0">4</text>
<text x="572.82" y="240.1" font-size="15.4">10</text><text x="589.95" y="230.8" font-size="9.0">5</text>
<text x="612.28" y="240.1" font-size="15.4">10</text><text x="629.4" y="230.8" font-size="9.0">6</text>
<text x="651.74" y="240.1" font-size="15.4">10</text><text x="668.86" y="230.8" font-size="9.0">7</text>
<text x="26.47" y="16.9" font-size="15.4">10</text><text x="43.6" y="7.6" font-size="9.0">1</text>
<text x="26.47" y="153.2" font-size="15.4">10</text><text x="43.6" y="143.9" font-size="9.0">0</text>
<text x="354.87" y="30.7" font-size="15.4">10</text><text x="372" y="21.4" font-size="9.0">1</text>
<text x="354.87" y="118.3" font-size="15.4">10</text><text x="372" y="109" font-size="9.0">0</text>
<text x="351.87" y="205.9" font-size="15.4">10</text><text x="369" y="196.6" font-size="9.0">-1</text>
<text x="48.8" y="491.6" font-size="15.2" text-anchor="end">-8</text>
<text x="48.8" y="452.06" font-size="15.2" text-anchor="end">-6</text>
<text x="48.8" y="412.52" font-size="15.2" text-anchor="end">-4</text>
<text x="48.8" y="372.98" font-size="15.2" text-anchor="end">-2</text>
<text x="48.8" y="333.44" font-size="15.2" text-anchor="end">0</text>
<text x="48.8" y="293.9" font-size="15.2" text-anchor="end">2</text>
<text transform="translate(53.6,503.7) scale(1,1.07)" font-size="15.4" text-anchor="middle">3.6</text>
<text transform="translate(104.62,503.7) scale(1,1.07)" font-size="15.4" text-anchor="middle">3.8</text>
<text transform="translate(155.64,503.7) scale(1,1.07)" font-size="15.4" text-anchor="middle">4.0</text>
<text transform="translate(206.65,503.7) scale(1,1.07)" font-size="15.4" text-anchor="middle">4.2</text>
<text transform="translate(257.67,503.7) scale(1,1.07)" font-size="15.4" text-anchor="middle">4.4</text>
<text transform="translate(308.69,503.7) scale(1,1.07)" font-size="15.4" text-anchor="middle">4.6</text>
<text x="380.6" y="490.9" font-size="15.2" text-anchor="end">-8</text>
<text x="380.6" y="451.38" font-size="15.2" text-anchor="end">-6</text>
<text x="380.6" y="411.86" font-size="15.2" text-anchor="end">-4</text>
<text x="380.6" y="372.34" font-size="15.2" text-anchor="end">-2</text>
<text x="380.6" y="332.82" font-size="15.2" text-anchor="end">0</text>
<text x="380.6" y="293.3" font-size="15.2" text-anchor="end">2</text>
<text transform="translate(385.7,503) scale(1,1.07)" font-size="15.4" text-anchor="middle">3.6</text>
<text transform="translate(436.68,503) scale(1,1.07)" font-size="15.4" text-anchor="middle">3.8</text>
<text transform="translate(487.66,503) scale(1,1.07)" font-size="15.4" text-anchor="middle">4.0</text>
<text transform="translate(538.65,503) scale(1,1.07)" font-size="15.4" text-anchor="middle">4.2</text>
<text transform="translate(589.63,503) scale(1,1.07)" font-size="15.4" text-anchor="middle">4.4</text>
<text transform="translate(640.61,503) scale(1,1.07)" font-size="15.4" text-anchor="middle">4.6</text>
</g>
<text x="147.4" y="264.3" font-size="21.3">Freq. [Hz]</text>
<text x="474.8" y="264.4" font-size="21.5">Freq. [Hz]</text>
<text x="139.3" y="538.5" font-size="21">1000/T</text>
<text x="211.44" y="538.5" font-size="21">[K</text>
<text x="232.8" y="527.6" font-size="9">-</text>
<text x="237.2" y="526.4" font-size="10">1</text>
<text x="243.1" y="538.5" font-size="21">]</text>
<text x="471.6" y="538.5" font-size="21">1000/T</text>
<text x="543.74" y="538.5" font-size="21">[K</text>
<text x="565.1" y="527.6" font-size="9">-</text>
<text x="569.5" y="526.4" font-size="10">1</text>
<text x="575.4" y="538.5" font-size="21">]</text>
<text transform="translate(21.1,142.4) rotate(-90)" font-size="21.5">ε</text>
<path d="M1.8 124.1L8.2 124.6L8.2 126.3L1.8 126.6Z" fill="#1a1a1a"/><path d="M1.8 128.8L8.2 129.3L8.2 131.0L1.8 131.3Z" fill="#1a1a1a"/>
<text transform="translate(22.5,440.5) rotate(-90)" font-size="21">Log</text>
<text transform="translate(22.5,400.9) rotate(-90)" font-size="14" letter-spacing="1.5">(τ/[s])</text>
<text x="59.0" y="28.8" font-size="15.7">T=243.0±0.5K</text>
<text x="402.9" y="29.0" font-size="15.7">T=240.0±0.5K</text>
<text transform="translate(299.6,205.2) scale(1.07,1)" font-size="20.6">(a)</text>
<text transform="translate(629.9,208.0) scale(1.07,1)" font-size="20.6">(c)</text>
<text transform="translate(296.8,476.1) scale(1.07,1)" font-size="20.6">(b)</text>
<text transform="translate(630.4,472.6) scale(1.07,1)" font-size="20.6">(d)</text>
<circle cx="74.6" cy="181.9" r="2.4" fill="none" stroke="#40ece8" stroke-width="2.3"/>
<text x="85.0" y="184.9" font-size="15.2">: Hydrated</text>
<path d="M75.1 196.67L79.3 202.38H70.9Z" fill="none" stroke="#7232d8" stroke-width="1.6" stroke-linejoin="miter"/>
<text x="85.0" y="203.8" font-size="15.2">: Pure</text>
<path d="M77.45 302.61L81.95 309.09H72.95Z" fill="none" stroke="#7232d8" stroke-width="1.6" stroke-linejoin="miter"/>
<text x="92.6" y="310.3" font-size="15.2">Pure</text>
<circle cx="77.1" cy="326.7" r="3.0" fill="none" stroke="#40ece8" stroke-width="2.5"/>
<text x="92.6" y="329.8" font-size="15.2">Hydrated</text>
<path d="M403.8 177.83L408.3 183.95H399.3Z" fill="none" stroke="#7232d8" stroke-width="1.5" stroke-linejoin="miter"/>
<text x="419.4" y="184.6" font-size="15.2">1 bar</text>
<polygon points="404.3,197.4 405.46,200.2 408.48,200.44 406.18,202.41 406.89,205.36 404.3,203.78 401.71,205.36 402.42,202.41 400.12,200.44 403.14,200.2" fill="#ffd27a" stroke="#f5a52a" stroke-width="1.3" stroke-linejoin="round"/>
<text x="415.0" y="204.3" font-size="15.2">1000 bar</text>
<path d="M413.7 304.01L418.1 309.99H409.3Z" fill="none" stroke="#7232d8" stroke-width="1.5" stroke-linejoin="miter"/>
<text x="430.0" y="310.7" font-size="15.2">1 bar</text>
<polygon points="413.3,323 414.44,325.73 417.39,325.97 415.14,327.9 415.83,330.78 413.3,329.24 410.77,330.78 411.46,327.9 409.21,325.97 412.16,325.73" fill="#ffd27a" stroke="#f5a52a" stroke-width="1.3" stroke-linejoin="round"/>
<text x="425.0" y="330.0" font-size="15.2">1000 bar</text>
<rect x="245" y="15.2" width="85.6" height="61.8" fill="#fff" stroke="#7c7c7c" stroke-width="0.9"/>
<path d="M245.5 45.2L246.43 45.22L247.35 45.23L248.28 45.25L249.21 45.26L250.13 45.27L251.06 45.28L251.99 45.28L252.91 45.29L253.84 45.29L254.77 45.3L255.69 45.3L256.62 45.3L257.55 45.3L258.47 45.3L259.4 45.3L260.33 45.3L261.25 45.3L262.18 45.29L263.11 45.28L264.03 45.27L264.96 45.25L265.88 45.23L266.81 45.21L267.74 45.18L268.66 45.15L269.59 45.12L270.52 45.09L271.44 45.06L272.37 45.02L273.3 44.99L274.22 44.95L275.15 44.91L276.08 44.87L277 44.83L277.93 44.79L278.86 44.75L279.78 44.71L280.71 44.67L281.64 44.62L282.56 44.58L283.49 44.53L284.42 44.47L285.34 44.42L286.27 44.35L287.2 44.29L288.12 44.22L289.05 44.14L289.98 44.06L290.9 43.97L291.83 43.87L292.76 43.77L293.68 43.65L294.61 43.5L295.54 43.33L296.46 43.14L297.39 42.93L298.32 42.7L299.24 42.46L300.17 42.2L301.09 41.93L302.02 41.64L302.95 41.31L303.87 40.94L304.8 40.5L305.73 39.99L306.65 39.38L307.58 38.59L308.51 37.58L309.43 36.38L310.36 34.89L311.29 32.71L312.21 30.22L313.14 27.87L314.07 25.65L314.99 23.46L315.92 21.33L316.85 19.28L317.77 17.31L318.7 15.4" stroke="#40ece8" stroke-width="2.6" fill="none" opacity="0.7"/>
<path d="M245.5 73.6L246.54 73.66L247.59 73.71L248.63 73.76L249.68 73.8L250.72 73.84L251.77 73.88L252.81 73.91L253.85 73.93L254.9 73.95L255.94 73.97L256.99 73.98L258.03 73.99L259.08 74L260.12 74L261.16 73.99L262.21 73.98L263.25 73.95L264.3 73.92L265.34 73.87L266.39 73.83L267.43 73.77L268.47 73.72L269.52 73.66L270.56 73.59L271.61 73.53L272.65 73.47L273.7 73.4L274.74 73.34L275.78 73.28L276.83 73.23L277.87 73.18L278.92 73.14L279.96 73.1L281.01 73.07L282.05 73.05L283.09 73.03L284.14 73.01L285.18 72.99L286.23 72.97L287.27 72.96L288.32 72.94L289.36 72.91L290.41 72.88L291.45 72.84L292.49 72.8L293.54 72.71L294.58 72.56L295.63 72.34L296.67 72.08L297.72 71.77L298.76 71.44L299.8 71.08L300.85 70.72L301.89 70.35L302.94 69.92L303.98 69.43L305.03 68.86L306.07 68.19L307.11 67.36L308.16 66.3L309.2 65.05L310.25 63.66L311.29 62.19L312.34 60.69L313.38 59.15L314.42 57.49L315.47 55.69L316.51 53.72L317.56 51.56L318.6 49.06L319.65 46.22L320.69 43.15L321.73 39.89L322.78 36.3L323.82 32.48L324.87 28.55L325.91 24.44L326.96 20.16L328 15.7" stroke="#7232d8" stroke-width="0.9" fill="none"/>
<circle cx="247" cy="73.68" r="0.9" fill="#7232d8" opacity="0.8"/><circle cx="250.2" cy="73.82" r="0.9" fill="#7232d8" opacity="0.8"/><circle cx="253.4" cy="73.92" r="0.9" fill="#7232d8" opacity="0.8"/><circle cx="256.6" cy="73.98" r="0.9" fill="#7232d8" opacity="0.8"/><circle cx="259.8" cy="74" r="0.9" fill="#7232d8" opacity="0.8"/><circle cx="263" cy="73.96" r="0.9" fill="#7232d8" opacity="0.8"/><circle cx="266.2" cy="73.83" r="0.9" fill="#7232d8" opacity="0.8"/><circle cx="269.4" cy="73.66" r="0.9" fill="#7232d8" opacity="0.8"/><circle cx="272.6" cy="73.47" r="0.9" fill="#7232d8" opacity="0.8"/><circle cx="275.8" cy="73.28" r="0.9" fill="#7232d8" opacity="0.8"/><circle cx="279" cy="73.13" r="0.9" fill="#7232d8" opacity="0.8"/><circle cx="282.2" cy="73.04" r="0.9" fill="#7232d8" opacity="0.8"/><circle cx="285.4" cy="72.99" r="0.9" fill="#7232d8" opacity="0.8"/><circle cx="288.6" cy="72.93" r="0.9" fill="#7232d8" opacity="0.8"/><circle cx="291.8" cy="72.83" r="0.9" fill="#7232d8" opacity="0.8"/><circle cx="295" cy="72.48" r="0.9" fill="#7232d8" opacity="0.8"/><circle cx="298.2" cy="71.62" r="0.9" fill="#7232d8" opacity="0.8"/><circle cx="301.4" cy="70.53" r="0.9" fill="#7232d8" opacity="0.8"/><circle cx="304.6" cy="69.1" r="0.9" fill="#7232d8" opacity="0.8"/><circle cx="307.8" cy="66.69" r="0.9" fill="#7232d8" opacity="0.8"/><circle cx="311" cy="62.61" r="0.9" fill="#7232d8" opacity="0.8"/><circle cx="314.2" cy="57.86" r="0.9" fill="#7232d8" opacity="0.8"/><circle cx="317.4" cy="51.9" r="0.9" fill="#7232d8" opacity="0.8"/><circle cx="320.6" cy="43.42" r="0.9" fill="#7232d8" opacity="0.8"/><circle cx="323.8" cy="32.57" r="0.9" fill="#7232d8" opacity="0.8"/>
<text x="245" y="85" font-size="5.6" fill="#7c7c7c" text-anchor="middle">10<tspan font-size="3.36" dy="-2.5">-1</tspan></text>
<text x="269.3" y="85" font-size="5.6" fill="#7c7c7c" text-anchor="middle">10<tspan font-size="3.36" dy="-2.5">0</tspan></text>
<text x="293.6" y="85" font-size="5.6" fill="#7c7c7c" text-anchor="middle">10<tspan font-size="3.36" dy="-2.5">1</tspan></text>
<text x="317.9" y="85" font-size="5.6" fill="#7c7c7c" text-anchor="middle">10<tspan font-size="3.36" dy="-2.5">2</tspan></text>
<text x="289" y="94" font-size="8.2" fill="#707070" text-anchor="middle">Freq  [Hz]</text>
<text x="240.6" y="23.8" font-size="5.4" fill="#7c7c7c" text-anchor="end">4x10<tspan font-size="3.4" dy="-2.2">-11</tspan></text>
<text x="240.6" y="42.2" font-size="5.4" fill="#7c7c7c" text-anchor="end">2x10<tspan font-size="3.4" dy="-2.2">-11</tspan></text>
<text transform="translate(222.6,69.6) rotate(-90)" font-size="7.6" fill="#7a7a7a">σ'(f) [S/cm]</text>
<path d="M245 77v-2M245 15.2v2M269.2 77v-2M269.2 15.2v2M293.4 77v-2M293.4 15.2v2M317.6 77v-2M317.6 15.2v2M245 21.7h2M330.6 21.7h-2M245 40.2h2M330.6 40.2h-2M245 58.5h2M330.6 58.5h-2" stroke="#7c7c7c" stroke-width="0.8"/>
<rect x="568.1" y="17.2" width="87.7" height="63.8" fill="#fff" stroke="#7c7c7c" stroke-width="0.9"/>
<path d="M568.6 47.3L569.61 47.32L570.62 47.33L571.62 47.35L572.63 47.36L573.64 47.37L574.65 47.37L575.65 47.38L576.66 47.39L577.67 47.39L578.68 47.39L579.68 47.4L580.69 47.4L581.7 47.4L582.71 47.4L583.71 47.4L584.72 47.4L585.73 47.4L586.74 47.39L587.74 47.37L588.75 47.35L589.76 47.33L590.77 47.3L591.77 47.27L592.78 47.24L593.79 47.21L594.8 47.18L595.81 47.16L596.81 47.13L597.82 47.12L598.83 47.11L599.84 47.1L600.84 47.1L601.85 47.1L602.86 47.1L603.87 47.1L604.87 47.1L605.88 47.1L606.89 47.1L607.9 47.1L608.9 47.1L609.91 47.1L610.92 47.1L611.93 47.1L612.93 47.1L613.94 47.1L614.95 47.08L615.96 47.06L616.96 47.02L617.97 46.97L618.98 46.91L619.99 46.84L620.99 46.75L622 46.66L623.01 46.56L624.02 46.45L625.03 46.33L626.03 46.2L627.04 46.06L628.05 45.87L629.06 45.59L630.06 45.23L631.07 44.8L632.08 44.31L633.09 43.75L634.09 43.07L635.1 42.06L636.11 40.8L637.12 39.37L638.12 37.78L639.13 35.8L640.14 33.62L641.15 31.43L642.15 29.36L643.16 27.29L644.17 25.25L645.18 23.27L646.18 21.33L647.19 19.44L648.2 17.6" stroke="#7232d8" stroke-width="2.1" fill="none" opacity="0.9"/>
<path d="M568.6 73.2L569.65 73.2L570.7 73.2L571.75 73.2L572.8 73.2L573.85 73.2L574.9 73.2L575.95 73.2L576.99 73.2L578.04 73.2L579.09 73.2L580.14 73.2L581.19 73.2L582.24 73.2L583.29 73.2L584.34 73.2L585.39 73.2L586.44 73.2L587.49 73.19L588.54 73.18L589.59 73.16L590.64 73.14L591.69 73.12L592.74 73.1L593.78 73.07L594.83 73.05L595.88 73.02L596.93 72.99L597.98 72.96L599.03 72.93L600.08 72.9L601.13 72.87L602.18 72.83L603.23 72.79L604.28 72.75L605.33 72.71L606.38 72.66L607.43 72.61L608.48 72.55L609.53 72.49L610.57 72.42L611.62 72.34L612.67 72.26L613.72 72.17L614.77 72.05L615.82 71.89L616.87 71.71L617.92 71.49L618.97 71.25L620.02 70.99L621.07 70.71L622.12 70.4L623.17 70.09L624.22 69.72L625.27 69.3L626.32 68.82L627.36 68.27L628.41 67.64L629.46 66.93L630.51 66.03L631.56 64.88L632.61 63.52L633.66 61.99L634.71 60.34L635.76 58.49L636.81 56.29L637.86 53.86L638.91 51.3L639.96 48.7L641.01 46.06L642.06 43.26L643.11 40.38L644.15 37.52L645.2 34.72L646.25 31.93L647.3 29.12L648.35 26.29L649.4 23.42L650.45 20.52L651.5 17.6" stroke="#f5a52a" stroke-width="0.8" fill="none" opacity="0.8"/>
<circle cx="570" cy="73.2" r="1.0" fill="#f5a52a" opacity="0.85"/><circle cx="573" cy="73.2" r="1.0" fill="#f5a52a" opacity="0.85"/><circle cx="576" cy="73.2" r="1.0" fill="#f5a52a" opacity="0.85"/><circle cx="579" cy="73.2" r="1.0" fill="#f5a52a" opacity="0.85"/><circle cx="582" cy="73.2" r="1.0" fill="#f5a52a" opacity="0.85"/><circle cx="585" cy="73.2" r="1.0" fill="#f5a52a" opacity="0.85"/><circle cx="588" cy="73.18" r="1.0" fill="#f5a52a" opacity="0.85"/><circle cx="591" cy="73.14" r="1.0" fill="#f5a52a" opacity="0.85"/><circle cx="594" cy="73.07" r="1.0" fill="#f5a52a" opacity="0.85"/><circle cx="597" cy="72.99" r="1.0" fill="#f5a52a" opacity="0.85"/><circle cx="600" cy="72.9" r="1.0" fill="#f5a52a" opacity="0.85"/><circle cx="603" cy="72.8" r="1.0" fill="#f5a52a" opacity="0.85"/><circle cx="606" cy="72.68" r="1.0" fill="#f5a52a" opacity="0.85"/><circle cx="609" cy="72.52" r="1.0" fill="#f5a52a" opacity="0.85"/><circle cx="612" cy="72.32" r="1.0" fill="#f5a52a" opacity="0.85"/><circle cx="615" cy="72.02" r="1.0" fill="#f5a52a" opacity="0.85"/><circle cx="618" cy="71.48" r="1.0" fill="#f5a52a" opacity="0.85"/><circle cx="621" cy="70.73" r="1.0" fill="#f5a52a" opacity="0.85"/><circle cx="624" cy="69.8" r="1.0" fill="#f5a52a" opacity="0.85"/><circle cx="627" cy="68.47" r="1.0" fill="#f5a52a" opacity="0.85"/><circle cx="630" cy="66.51" r="1.0" fill="#f5a52a" opacity="0.85"/><circle cx="633" cy="62.97" r="1.0" fill="#f5a52a" opacity="0.85"/><circle cx="636" cy="58.01" r="1.0" fill="#f5a52a" opacity="0.85"/><circle cx="639" cy="51.07" r="1.0" fill="#f5a52a" opacity="0.85"/><circle cx="642" cy="43.41" r="1.0" fill="#f5a52a" opacity="0.85"/><circle cx="645" cy="35.27" r="1.0" fill="#f5a52a" opacity="0.85"/><circle cx="648" cy="27.24" r="1.0" fill="#f5a52a" opacity="0.85"/>
<text x="570.5" y="87.5" font-size="5.6" fill="#7c7c7c" text-anchor="middle">10<tspan font-size="3.36" dy="-2.5">-1</tspan></text>
<text x="591.9" y="87.5" font-size="5.6" fill="#7c7c7c" text-anchor="middle">10<tspan font-size="3.36" dy="-2.5">0</tspan></text>
<text x="613.3" y="87.5" font-size="5.6" fill="#7c7c7c" text-anchor="middle">10<tspan font-size="3.36" dy="-2.5">1</tspan></text>
<text x="634.7" y="87.5" font-size="5.6" fill="#7c7c7c" text-anchor="middle">10<tspan font-size="3.36" dy="-2.5">2</tspan></text>
<text x="613.5" y="97.5" font-size="8.4" fill="#707070" text-anchor="middle">Freq  [Hz]</text>
<text x="565.5" y="32.2" font-size="5.2" fill="#7c7c7c" text-anchor="end">10<tspan font-size="3.4" dy="-2.2">-10</tspan></text>
<text x="565.5" y="67" font-size="5.2" fill="#7c7c7c" text-anchor="end">10<tspan font-size="3.4" dy="-2.2">-11</tspan></text>
<text transform="translate(550.6,72.4) rotate(-90)" font-size="7.8" fill="#6a6a6a">σ'(f) [S/cm]</text>
<path d="M568.1 81v-2M568.1 17.2v2M589.4 81v-2M589.4 17.2v2M610.7 81v-2M610.7 17.2v2M632 81v-2M632 17.2v2M568.1 31h2M655.8 31h-2M568.1 65h2M655.8 65h-2" stroke="#7c7c7c" stroke-width="0.8"/>
</svg></body></html>
